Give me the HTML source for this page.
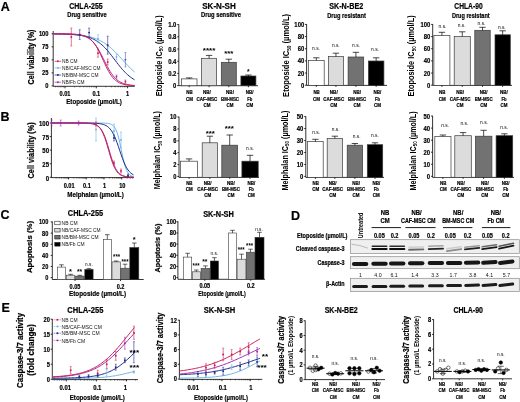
<!DOCTYPE html>
<html><head><meta charset="utf-8"><style>
html,body{margin:0;padding:0;background:#fff;width:520px;height:402px;overflow:hidden}
svg{display:block;filter:blur(0.35px)}
text{font-family:"Liberation Sans", sans-serif}
.s{stroke:#000;stroke-width:0.2px}
</style></head><body>
<svg width="520" height="402" viewBox="0 0 520 402">
<defs><filter id="bb" x="-10%" y="-50%" width="120%" height="200%"><feGaussianBlur stdDeviation="0.5"/></filter></defs>
<rect width="520" height="402" fill="#fff"/>
<text x="5.20" y="11.20" font-size="12.5" font-weight="bold" text-anchor="middle" fill="#000" textLength="9.03" lengthAdjust="spacingAndGlyphs" class="s">A</text>
<text x="5.10" y="121.30" font-size="12.5" font-weight="bold" text-anchor="middle" fill="#000" textLength="9.03" lengthAdjust="spacingAndGlyphs" class="s">B</text>
<text x="4.90" y="218.80" font-size="12.5" font-weight="bold" text-anchor="middle" fill="#000" textLength="9.03" lengthAdjust="spacingAndGlyphs" class="s">C</text>
<text x="295.60" y="220.20" font-size="12.5" font-weight="bold" text-anchor="middle" fill="#000" textLength="9.03" lengthAdjust="spacingAndGlyphs" class="s">D</text>
<text x="5.70" y="312.40" font-size="12.5" font-weight="bold" text-anchor="middle" fill="#000" textLength="8.34" lengthAdjust="spacingAndGlyphs" class="s">E</text>
<text x="86.00" y="9.00" font-size="8.4" font-weight="bold" text-anchor="middle" fill="#000" textLength="33.50" lengthAdjust="spacingAndGlyphs" class="s">CHLA-255</text>
<text x="87.00" y="17.20" font-size="7.0" font-weight="bold" text-anchor="middle" fill="#000" textLength="39.50" lengthAdjust="spacingAndGlyphs" class="s">Drug sensitive</text>
<text transform="translate(33.60,57.00) rotate(-90)" font-size="8.2" font-weight="bold" text-anchor="middle" fill="#000" textLength="55.00" lengthAdjust="spacingAndGlyphs" class="s">Cell viability (%)</text>
<line x1="53.20" y1="31.00" x2="53.20" y2="86.30" stroke="#000" stroke-width="0.8"/>
<line x1="51.60" y1="33.80" x2="53.20" y2="33.80" stroke="#000" stroke-width="0.8"/>
<text x="48.50" y="35.50" font-size="7.0" font-weight="bold" text-anchor="end" fill="#000" textLength="9.58" lengthAdjust="spacingAndGlyphs" class="s">100</text>
<line x1="51.60" y1="46.83" x2="53.20" y2="46.83" stroke="#000" stroke-width="0.8"/>
<text x="48.50" y="48.53" font-size="7.0" font-weight="bold" text-anchor="end" fill="#000" textLength="6.38" lengthAdjust="spacingAndGlyphs" class="s">75</text>
<line x1="51.60" y1="59.85" x2="53.20" y2="59.85" stroke="#000" stroke-width="0.8"/>
<text x="48.50" y="61.55" font-size="7.0" font-weight="bold" text-anchor="end" fill="#000" textLength="6.38" lengthAdjust="spacingAndGlyphs" class="s">50</text>
<line x1="51.60" y1="72.88" x2="53.20" y2="72.88" stroke="#000" stroke-width="0.8"/>
<text x="48.50" y="74.58" font-size="7.0" font-weight="bold" text-anchor="end" fill="#000" textLength="6.38" lengthAdjust="spacingAndGlyphs" class="s">25</text>
<line x1="51.60" y1="85.90" x2="53.20" y2="85.90" stroke="#000" stroke-width="0.8"/>
<text x="48.50" y="87.60" font-size="7.0" font-weight="bold" text-anchor="end" fill="#000" textLength="3.19" lengthAdjust="spacingAndGlyphs" class="s">0</text>
<line x1="53.20" y1="86.30" x2="134.80" y2="86.30" stroke="#000" stroke-width="0.8"/>
<line x1="65.00" y1="86.30" x2="65.00" y2="88.30" stroke="#000" stroke-width="0.8"/>
<text x="65.00" y="96.10" font-size="6.6" font-weight="bold" text-anchor="middle" fill="#000" textLength="10.92" lengthAdjust="spacingAndGlyphs" class="s">0.01</text>
<line x1="96.30" y1="86.30" x2="96.30" y2="88.30" stroke="#000" stroke-width="0.8"/>
<text x="96.30" y="96.10" font-size="6.6" font-weight="bold" text-anchor="middle" fill="#000" textLength="7.80" lengthAdjust="spacingAndGlyphs" class="s">0.1</text>
<line x1="127.60" y1="86.30" x2="127.60" y2="88.30" stroke="#000" stroke-width="0.8"/>
<text x="127.60" y="96.10" font-size="6.6" font-weight="bold" text-anchor="middle" fill="#000" textLength="3.12" lengthAdjust="spacingAndGlyphs" class="s">1</text>
<line x1="55.58" y1="86.30" x2="55.58" y2="87.40" stroke="#000" stroke-width="0.5"/>
<line x1="58.06" y1="86.30" x2="58.06" y2="87.40" stroke="#000" stroke-width="0.5"/>
<line x1="60.15" y1="86.30" x2="60.15" y2="87.40" stroke="#000" stroke-width="0.5"/>
<line x1="61.97" y1="86.30" x2="61.97" y2="87.40" stroke="#000" stroke-width="0.5"/>
<line x1="63.57" y1="86.30" x2="63.57" y2="87.40" stroke="#000" stroke-width="0.5"/>
<line x1="74.42" y1="86.30" x2="74.42" y2="87.40" stroke="#000" stroke-width="0.5"/>
<line x1="79.93" y1="86.30" x2="79.93" y2="87.40" stroke="#000" stroke-width="0.5"/>
<line x1="83.84" y1="86.30" x2="83.84" y2="87.40" stroke="#000" stroke-width="0.5"/>
<line x1="86.88" y1="86.30" x2="86.88" y2="87.40" stroke="#000" stroke-width="0.5"/>
<line x1="89.36" y1="86.30" x2="89.36" y2="87.40" stroke="#000" stroke-width="0.5"/>
<line x1="91.45" y1="86.30" x2="91.45" y2="87.40" stroke="#000" stroke-width="0.5"/>
<line x1="93.27" y1="86.30" x2="93.27" y2="87.40" stroke="#000" stroke-width="0.5"/>
<line x1="94.87" y1="86.30" x2="94.87" y2="87.40" stroke="#000" stroke-width="0.5"/>
<line x1="105.72" y1="86.30" x2="105.72" y2="87.40" stroke="#000" stroke-width="0.5"/>
<line x1="111.23" y1="86.30" x2="111.23" y2="87.40" stroke="#000" stroke-width="0.5"/>
<line x1="115.14" y1="86.30" x2="115.14" y2="87.40" stroke="#000" stroke-width="0.5"/>
<line x1="118.18" y1="86.30" x2="118.18" y2="87.40" stroke="#000" stroke-width="0.5"/>
<line x1="120.66" y1="86.30" x2="120.66" y2="87.40" stroke="#000" stroke-width="0.5"/>
<line x1="122.75" y1="86.30" x2="122.75" y2="87.40" stroke="#000" stroke-width="0.5"/>
<line x1="124.57" y1="86.30" x2="124.57" y2="87.40" stroke="#000" stroke-width="0.5"/>
<line x1="126.17" y1="86.30" x2="126.17" y2="87.40" stroke="#000" stroke-width="0.5"/>
<text x="94.00" y="103.90" font-size="7.9" font-weight="bold" text-anchor="middle" fill="#000" textLength="55.50" lengthAdjust="spacingAndGlyphs" class="s">Etoposide (µmol/L)</text>
<path d="M53.20,33.95 L54.56,33.96 L55.91,33.98 L57.27,34.01 L58.62,34.03 L59.97,34.06 L61.33,34.09 L62.68,34.13 L64.04,34.17 L65.40,34.21 L66.75,34.26 L68.10,34.32 L69.46,34.38 L70.81,34.45 L72.17,34.52 L73.53,34.61 L74.88,34.71 L76.23,34.81 L77.59,34.94 L78.94,35.07 L80.30,35.22 L81.66,35.39 L83.01,35.57 L84.36,35.78 L85.72,36.01 L87.07,36.27 L88.43,36.55 L89.78,36.87 L91.14,37.21 L92.50,37.60 L93.85,38.02 L95.20,38.49 L96.56,39.00 L97.91,39.56 L99.27,40.18 L100.62,40.85 L101.98,41.57 L103.34,42.36 L104.69,43.22 L106.05,44.13 L107.40,45.11 L108.75,46.16 L110.11,47.28 L111.47,48.45 L112.82,49.69 L114.17,50.98 L115.53,52.33 L116.88,53.72 L118.24,55.15 L119.59,56.60 L120.95,58.08 L122.30,59.57 L123.66,61.07 L125.02,62.55 L126.37,64.02 L127.72,65.46 L129.08,66.86 L130.44,68.22 L131.79,69.54 L133.14,70.80 L134.50,72.00" stroke="#6fb4e4" stroke-width="1.0" fill="none"/>
<path d="M53.20,33.90 L54.56,33.91 L55.91,33.93 L57.27,33.95 L58.62,33.97 L59.97,34.00 L61.33,34.03 L62.68,34.06 L64.04,34.10 L65.40,34.14 L66.75,34.19 L68.10,34.25 L69.46,34.32 L70.81,34.39 L72.17,34.48 L73.53,34.58 L74.88,34.69 L76.23,34.82 L77.59,34.97 L78.94,35.13 L80.30,35.32 L81.66,35.54 L83.01,35.79 L84.36,36.07 L85.72,36.39 L87.07,36.75 L88.43,37.15 L89.78,37.61 L91.14,38.13 L92.50,38.70 L93.85,39.35 L95.20,40.07 L96.56,40.87 L97.91,41.75 L99.27,42.72 L100.62,43.79 L101.98,44.94 L103.34,46.20 L104.69,47.54 L106.05,48.98 L107.40,50.50 L108.75,52.10 L110.11,53.76 L111.47,55.48 L112.82,57.24 L114.17,59.02 L115.53,60.81 L116.88,62.60 L118.24,64.35 L119.59,66.07 L120.95,67.73 L122.30,69.32 L123.66,70.83 L125.02,72.26 L126.37,73.60 L127.72,74.85 L129.08,76.00 L130.44,77.05 L131.79,78.02 L133.14,78.90 L134.50,79.69" stroke="#1c2a8c" stroke-width="1.0" fill="none"/>
<path d="M53.20,33.82 L54.56,33.83 L55.91,33.83 L57.27,33.84 L58.62,33.85 L59.97,33.86 L61.33,33.87 L62.68,33.89 L64.04,33.91 L65.40,33.94 L66.75,33.97 L68.10,34.01 L69.46,34.05 L70.81,34.11 L72.17,34.18 L73.53,34.27 L74.88,34.38 L76.23,34.51 L77.59,34.68 L78.94,34.88 L80.30,35.12 L81.66,35.42 L83.01,35.79 L84.36,36.23 L85.72,36.76 L87.07,37.40 L88.43,38.17 L89.78,39.08 L91.14,40.16 L92.50,41.43 L93.85,42.89 L95.20,44.57 L96.56,46.47 L97.91,48.59 L99.27,50.90 L100.62,53.38 L101.98,56.00 L103.34,58.70 L104.69,61.42 L106.05,64.11 L107.40,66.71 L108.75,69.17 L110.11,71.46 L111.47,73.54 L112.82,75.40 L114.17,77.05 L115.53,78.48 L116.88,79.72 L118.24,80.77 L119.59,81.66 L120.95,82.41 L122.30,83.03 L123.66,83.55 L125.02,83.98 L126.37,84.33 L127.72,84.62 L129.08,84.85 L130.44,85.05 L131.79,85.21 L133.14,85.34 L134.50,85.44" stroke="#a12aa8" stroke-width="1.0" fill="none"/>
<path d="M53.20,33.81 L54.56,33.81 L55.91,33.82 L57.27,33.82 L58.62,33.83 L59.97,33.84 L61.33,33.84 L62.68,33.86 L64.04,33.87 L65.40,33.89 L66.75,33.91 L68.10,33.94 L69.46,33.98 L70.81,34.02 L72.17,34.08 L73.53,34.15 L74.88,34.24 L76.23,34.35 L77.59,34.50 L78.94,34.67 L80.30,34.89 L81.66,35.16 L83.01,35.50 L84.36,35.93 L85.72,36.45 L87.07,37.09 L88.43,37.87 L89.78,38.81 L91.14,39.95 L92.50,41.31 L93.85,42.90 L95.20,44.76 L96.56,46.87 L97.91,49.24 L99.27,51.84 L100.62,54.63 L101.98,57.55 L103.34,60.53 L104.69,63.50 L106.05,66.37 L107.40,69.08 L108.75,71.57 L110.11,73.83 L111.47,75.82 L112.82,77.56 L114.17,79.04 L115.53,80.30 L116.88,81.34 L118.24,82.21 L119.59,82.92 L120.95,83.51 L122.30,83.98 L123.66,84.36 L125.02,84.67 L126.37,84.92 L127.72,85.11 L129.08,85.27 L130.44,85.40 L131.79,85.50 L133.14,85.58 L134.50,85.65" stroke="#cc1f55" stroke-width="1.0" fill="none"/>
<line x1="71.30" y1="28.00" x2="71.30" y2="46.00" stroke="#cc1f55" stroke-width="0.6"/>
<line x1="70.30" y1="28.00" x2="72.30" y2="28.00" stroke="#cc1f55" stroke-width="0.5"/>
<line x1="70.30" y1="46.00" x2="72.30" y2="46.00" stroke="#cc1f55" stroke-width="0.5"/>
<circle cx="71.30" cy="37.00" r="0.95" fill="#cc1f55"/>
<line x1="79.70" y1="29.70" x2="79.70" y2="39.50" stroke="#1c2a8c" stroke-width="0.6"/>
<line x1="78.70" y1="29.70" x2="80.70" y2="29.70" stroke="#1c2a8c" stroke-width="0.5"/>
<line x1="78.70" y1="39.50" x2="80.70" y2="39.50" stroke="#1c2a8c" stroke-width="0.5"/>
<circle cx="79.70" cy="34.60" r="0.95" fill="#1c2a8c"/>
<line x1="89.10" y1="28.10" x2="89.10" y2="37.10" stroke="#1c2a8c" stroke-width="0.6"/>
<line x1="88.10" y1="28.10" x2="90.10" y2="28.10" stroke="#1c2a8c" stroke-width="0.5"/>
<line x1="88.10" y1="37.10" x2="90.10" y2="37.10" stroke="#1c2a8c" stroke-width="0.5"/>
<circle cx="89.10" cy="32.60" r="0.95" fill="#1c2a8c"/>
<line x1="98.00" y1="49.20" x2="98.00" y2="57.20" stroke="#cc1f55" stroke-width="0.6"/>
<line x1="97.00" y1="49.20" x2="99.00" y2="49.20" stroke="#cc1f55" stroke-width="0.5"/>
<line x1="97.00" y1="57.20" x2="99.00" y2="57.20" stroke="#cc1f55" stroke-width="0.5"/>
<circle cx="98.00" cy="53.20" r="0.95" fill="#cc1f55"/>
<line x1="98.00" y1="34.70" x2="98.00" y2="42.70" stroke="#6fb4e4" stroke-width="0.6"/>
<line x1="97.00" y1="34.70" x2="99.00" y2="34.70" stroke="#6fb4e4" stroke-width="0.5"/>
<line x1="97.00" y1="42.70" x2="99.00" y2="42.70" stroke="#6fb4e4" stroke-width="0.5"/>
<circle cx="98.00" cy="38.70" r="0.95" fill="#6fb4e4"/>
<line x1="107.70" y1="36.20" x2="107.70" y2="54.20" stroke="#1c2a8c" stroke-width="0.6"/>
<line x1="106.70" y1="36.20" x2="108.70" y2="36.20" stroke="#1c2a8c" stroke-width="0.5"/>
<line x1="106.70" y1="54.20" x2="108.70" y2="54.20" stroke="#1c2a8c" stroke-width="0.5"/>
<circle cx="107.70" cy="45.20" r="0.95" fill="#1c2a8c"/>
<line x1="107.70" y1="59.00" x2="107.70" y2="65.00" stroke="#cc1f55" stroke-width="0.6"/>
<line x1="106.70" y1="59.00" x2="108.70" y2="59.00" stroke="#cc1f55" stroke-width="0.5"/>
<line x1="106.70" y1="65.00" x2="108.70" y2="65.00" stroke="#cc1f55" stroke-width="0.5"/>
<circle cx="107.70" cy="62.00" r="0.95" fill="#cc1f55"/>
<line x1="116.50" y1="75.00" x2="116.50" y2="78.20" stroke="#a12aa8" stroke-width="0.6"/>
<line x1="115.50" y1="75.00" x2="117.50" y2="75.00" stroke="#a12aa8" stroke-width="0.5"/>
<line x1="115.50" y1="78.20" x2="117.50" y2="78.20" stroke="#a12aa8" stroke-width="0.5"/>
<circle cx="116.50" cy="76.60" r="0.95" fill="#a12aa8"/>
<line x1="116.50" y1="54.00" x2="116.50" y2="60.00" stroke="#6fb4e4" stroke-width="0.6"/>
<line x1="115.50" y1="54.00" x2="117.50" y2="54.00" stroke="#6fb4e4" stroke-width="0.5"/>
<line x1="115.50" y1="60.00" x2="117.50" y2="60.00" stroke="#6fb4e4" stroke-width="0.5"/>
<circle cx="116.50" cy="57.00" r="0.95" fill="#6fb4e4"/>
<line x1="125.40" y1="52.50" x2="125.40" y2="66.90" stroke="#4a5fc0" stroke-width="0.6"/>
<line x1="124.40" y1="52.50" x2="126.40" y2="52.50" stroke="#4a5fc0" stroke-width="0.5"/>
<line x1="124.40" y1="66.90" x2="126.40" y2="66.90" stroke="#4a5fc0" stroke-width="0.5"/>
<circle cx="125.40" cy="59.70" r="0.95" fill="#4a5fc0"/>
<line x1="125.40" y1="80.00" x2="125.40" y2="83.20" stroke="#cc1f55" stroke-width="0.6"/>
<line x1="124.40" y1="80.00" x2="126.40" y2="80.00" stroke="#cc1f55" stroke-width="0.5"/>
<line x1="124.40" y1="83.20" x2="126.40" y2="83.20" stroke="#cc1f55" stroke-width="0.5"/>
<circle cx="125.40" cy="81.60" r="0.95" fill="#cc1f55"/>
<line x1="54.60" y1="61.30" x2="61.20" y2="61.30" stroke="#cc1f55" stroke-width="0.7"/>
<circle cx="57.9" cy="61.3" r="0.95" fill="#cc1f55"/>
<text x="62.00" y="63.30" font-size="6.0" font-weight="normal" text-anchor="start" fill="#111" textLength="15.50" lengthAdjust="spacingAndGlyphs">NB CM</text>
<line x1="54.60" y1="67.90" x2="61.20" y2="67.90" stroke="#6fb4e4" stroke-width="0.7"/>
<circle cx="57.9" cy="67.9" r="0.95" fill="#6fb4e4"/>
<text x="62.00" y="69.90" font-size="6.0" font-weight="normal" text-anchor="start" fill="#111" textLength="38.50" lengthAdjust="spacingAndGlyphs">NB/CAF-MSC CM</text>
<line x1="54.60" y1="75.00" x2="61.20" y2="75.00" stroke="#1c2a8c" stroke-width="0.7"/>
<circle cx="57.9" cy="75.0" r="0.95" fill="#1c2a8c"/>
<text x="62.00" y="77.00" font-size="6.0" font-weight="normal" text-anchor="start" fill="#111" textLength="36.50" lengthAdjust="spacingAndGlyphs">NB/BM-MSC CM</text>
<line x1="54.60" y1="82.20" x2="61.20" y2="82.20" stroke="#a12aa8" stroke-width="0.7"/>
<circle cx="57.9" cy="82.2" r="0.95" fill="#a12aa8"/>
<text x="62.00" y="84.20" font-size="6.0" font-weight="normal" text-anchor="start" fill="#111" textLength="22.50" lengthAdjust="spacingAndGlyphs">NB/Fb CM</text>
<text x="219.00" y="9.00" font-size="8.4" font-weight="bold" text-anchor="middle" fill="#000" textLength="33.50" lengthAdjust="spacingAndGlyphs" class="s">SK-N-SH</text>
<text x="221.00" y="17.40" font-size="7.0" font-weight="bold" text-anchor="middle" fill="#000" textLength="40.00" lengthAdjust="spacingAndGlyphs" class="s">Drug sensitive</text>
<text transform="translate(161.50,55.80) rotate(-90)" font-size="8.4" font-weight="bold" text-anchor="middle" textLength="81" lengthAdjust="spacingAndGlyphs">Etoposide IC<tspan font-size="5.21" dy="1.8">50</tspan><tspan dy="-1.8"> (µmol/L)</tspan></text>
<line x1="178.80" y1="24.30" x2="178.80" y2="85.70" stroke="#000" stroke-width="0.8"/>
<line x1="177.20" y1="85.60" x2="178.80" y2="85.60" stroke="#000" stroke-width="0.8"/>
<text x="176.40" y="88.26" font-size="7.6" font-weight="bold" text-anchor="end" fill="#000" textLength="3.30" lengthAdjust="spacingAndGlyphs" class="s">0</text>
<line x1="177.20" y1="73.40" x2="178.80" y2="73.40" stroke="#000" stroke-width="0.8"/>
<text x="176.40" y="76.06" font-size="7.6" font-weight="bold" text-anchor="end" fill="#000" textLength="8.24" lengthAdjust="spacingAndGlyphs" class="s">0.2</text>
<line x1="177.20" y1="61.20" x2="178.80" y2="61.20" stroke="#000" stroke-width="0.8"/>
<text x="176.40" y="63.86" font-size="7.6" font-weight="bold" text-anchor="end" fill="#000" textLength="8.24" lengthAdjust="spacingAndGlyphs" class="s">0.4</text>
<line x1="177.20" y1="49.00" x2="178.80" y2="49.00" stroke="#000" stroke-width="0.8"/>
<text x="176.40" y="51.66" font-size="7.6" font-weight="bold" text-anchor="end" fill="#000" textLength="8.24" lengthAdjust="spacingAndGlyphs" class="s">0.6</text>
<line x1="177.20" y1="36.80" x2="178.80" y2="36.80" stroke="#000" stroke-width="0.8"/>
<text x="176.40" y="39.46" font-size="7.6" font-weight="bold" text-anchor="end" fill="#000" textLength="8.24" lengthAdjust="spacingAndGlyphs" class="s">0.8</text>
<line x1="177.20" y1="24.60" x2="178.80" y2="24.60" stroke="#000" stroke-width="0.8"/>
<text x="176.40" y="27.26" font-size="7.6" font-weight="bold" text-anchor="end" fill="#000" textLength="8.24" lengthAdjust="spacingAndGlyphs" class="s">1.0</text>
<line x1="178.80" y1="85.70" x2="258.00" y2="85.70" stroke="#000" stroke-width="0.8"/>
<rect x="181.40" y="78.90" width="15.60" height="6.80" fill="#fff" stroke="#3a3a3a" stroke-width="0.7"/>
<line x1="189.20" y1="78.90" x2="189.20" y2="77.90" stroke="#000" stroke-width="0.7"/>
<line x1="186.00" y1="77.90" x2="192.40" y2="77.90" stroke="#000" stroke-width="0.7"/>
<line x1="189.20" y1="85.70" x2="189.20" y2="87.20" stroke="#000" stroke-width="0.8"/>
<text x="189.50" y="93.80" font-size="5.4" font-weight="bold" text-anchor="middle" fill="#000" textLength="6.40" lengthAdjust="spacingAndGlyphs" class="s">NB</text>
<text x="189.50" y="100.60" font-size="5.4" font-weight="bold" text-anchor="middle" fill="#000" textLength="7.00" lengthAdjust="spacingAndGlyphs" class="s">CM</text>
<rect x="201.60" y="58.30" width="15.00" height="27.40" fill="#dcdcdc" stroke="#3a3a3a" stroke-width="0.7"/>
<line x1="209.10" y1="58.30" x2="209.10" y2="55.40" stroke="#000" stroke-width="0.7"/>
<line x1="205.90" y1="55.40" x2="212.30" y2="55.40" stroke="#000" stroke-width="0.7"/>
<line x1="209.10" y1="85.70" x2="209.10" y2="87.20" stroke="#000" stroke-width="0.8"/>
<text x="206.90" y="93.80" font-size="5.4" font-weight="bold" text-anchor="middle" fill="#000" textLength="7.80" lengthAdjust="spacingAndGlyphs" class="s">NB/</text>
<text x="206.90" y="100.60" font-size="5.4" font-weight="bold" text-anchor="middle" fill="#000" textLength="20.80" lengthAdjust="spacingAndGlyphs" class="s">CAF-MSC</text>
<text x="206.90" y="107.20" font-size="5.4" font-weight="bold" text-anchor="middle" fill="#000" textLength="7.00" lengthAdjust="spacingAndGlyphs" class="s">CM</text>
<rect x="221.30" y="62.30" width="15.00" height="23.40" fill="#727272" stroke="#3a3a3a" stroke-width="0.7"/>
<line x1="228.80" y1="62.30" x2="228.80" y2="59.20" stroke="#000" stroke-width="0.7"/>
<line x1="225.60" y1="59.20" x2="232.00" y2="59.20" stroke="#000" stroke-width="0.7"/>
<line x1="228.80" y1="85.70" x2="228.80" y2="87.20" stroke="#000" stroke-width="0.8"/>
<text x="230.00" y="93.80" font-size="5.4" font-weight="bold" text-anchor="middle" fill="#000" textLength="7.80" lengthAdjust="spacingAndGlyphs" class="s">NB/</text>
<text x="230.00" y="100.60" font-size="5.4" font-weight="bold" text-anchor="middle" fill="#000" textLength="18.00" lengthAdjust="spacingAndGlyphs" class="s">BM-MSC</text>
<text x="230.00" y="107.20" font-size="5.4" font-weight="bold" text-anchor="middle" fill="#000" textLength="7.00" lengthAdjust="spacingAndGlyphs" class="s">CM</text>
<rect x="240.90" y="76.00" width="15.00" height="9.70" fill="#000" stroke="#3a3a3a" stroke-width="0.7"/>
<line x1="248.40" y1="76.00" x2="248.40" y2="75.00" stroke="#000" stroke-width="0.7"/>
<line x1="245.20" y1="75.00" x2="251.60" y2="75.00" stroke="#000" stroke-width="0.7"/>
<line x1="248.40" y1="85.70" x2="248.40" y2="87.20" stroke="#000" stroke-width="0.8"/>
<text x="249.70" y="93.80" font-size="5.4" font-weight="bold" text-anchor="middle" fill="#000" textLength="7.80" lengthAdjust="spacingAndGlyphs" class="s">NB/</text>
<text x="249.70" y="100.60" font-size="5.4" font-weight="bold" text-anchor="middle" fill="#000" textLength="5.00" lengthAdjust="spacingAndGlyphs" class="s">Fb</text>
<text x="249.70" y="107.20" font-size="5.4" font-weight="bold" text-anchor="middle" fill="#000" textLength="7.00" lengthAdjust="spacingAndGlyphs" class="s">CM</text>
<text x="209.10" y="53.00" font-size="7.0" font-weight="bold" text-anchor="middle" fill="#000" textLength="12.60" lengthAdjust="spacingAndGlyphs">****</text>
<text x="228.80" y="56.10" font-size="7.0" font-weight="bold" text-anchor="middle" fill="#000" textLength="9.20" lengthAdjust="spacingAndGlyphs">***</text>
<text x="248.20" y="73.80" font-size="7.0" font-weight="bold" text-anchor="middle" fill="#000" textLength="2.60" lengthAdjust="spacingAndGlyphs">*</text>
<text x="346.20" y="9.00" font-size="8.4" font-weight="bold" text-anchor="middle" fill="#000" textLength="34.00" lengthAdjust="spacingAndGlyphs" class="s">SK-N-BE2</text>
<text x="346.50" y="17.60" font-size="7.0" font-weight="bold" text-anchor="middle" fill="#000" textLength="38.60" lengthAdjust="spacingAndGlyphs" class="s">Drug resistant</text>
<text transform="translate(289.00,55.40) rotate(-90)" font-size="8.4" font-weight="bold" text-anchor="middle" textLength="83" lengthAdjust="spacingAndGlyphs">Etoposide IC<tspan font-size="5.21" dy="1.8">50</tspan><tspan dy="-1.8"> (µmol/L)</tspan></text>
<line x1="306.60" y1="24.10" x2="306.60" y2="85.40" stroke="#000" stroke-width="0.8"/>
<line x1="305.00" y1="85.20" x2="306.60" y2="85.20" stroke="#000" stroke-width="0.8"/>
<text x="304.20" y="87.72" font-size="7.2" font-weight="bold" text-anchor="end" fill="#000" textLength="3.28" lengthAdjust="spacingAndGlyphs" class="s">0</text>
<line x1="305.00" y1="73.04" x2="306.60" y2="73.04" stroke="#000" stroke-width="0.8"/>
<text x="304.20" y="75.56" font-size="7.2" font-weight="bold" text-anchor="end" fill="#000" textLength="6.57" lengthAdjust="spacingAndGlyphs" class="s">20</text>
<line x1="305.00" y1="60.88" x2="306.60" y2="60.88" stroke="#000" stroke-width="0.8"/>
<text x="304.20" y="63.40" font-size="7.2" font-weight="bold" text-anchor="end" fill="#000" textLength="6.57" lengthAdjust="spacingAndGlyphs" class="s">40</text>
<line x1="305.00" y1="48.72" x2="306.60" y2="48.72" stroke="#000" stroke-width="0.8"/>
<text x="304.20" y="51.24" font-size="7.2" font-weight="bold" text-anchor="end" fill="#000" textLength="6.57" lengthAdjust="spacingAndGlyphs" class="s">60</text>
<line x1="305.00" y1="36.56" x2="306.60" y2="36.56" stroke="#000" stroke-width="0.8"/>
<text x="304.20" y="39.08" font-size="7.2" font-weight="bold" text-anchor="end" fill="#000" textLength="6.57" lengthAdjust="spacingAndGlyphs" class="s">80</text>
<line x1="305.00" y1="24.40" x2="306.60" y2="24.40" stroke="#000" stroke-width="0.8"/>
<text x="304.20" y="26.92" font-size="7.2" font-weight="bold" text-anchor="end" fill="#000" textLength="9.85" lengthAdjust="spacingAndGlyphs" class="s">100</text>
<line x1="306.60" y1="85.40" x2="387.00" y2="85.40" stroke="#000" stroke-width="0.8"/>
<rect x="308.40" y="60.40" width="15.80" height="25.00" fill="#fff" stroke="#3a3a3a" stroke-width="0.7"/>
<line x1="316.30" y1="60.40" x2="316.30" y2="57.80" stroke="#000" stroke-width="0.7"/>
<line x1="313.10" y1="57.80" x2="319.50" y2="57.80" stroke="#000" stroke-width="0.7"/>
<line x1="316.30" y1="85.40" x2="316.30" y2="86.90" stroke="#000" stroke-width="0.8"/>
<text x="316.60" y="93.80" font-size="5.4" font-weight="bold" text-anchor="middle" fill="#000" textLength="6.40" lengthAdjust="spacingAndGlyphs" class="s">NB</text>
<text x="316.60" y="100.60" font-size="5.4" font-weight="bold" text-anchor="middle" fill="#000" textLength="7.00" lengthAdjust="spacingAndGlyphs" class="s">CM</text>
<rect x="328.40" y="56.60" width="15.10" height="28.80" fill="#dcdcdc" stroke="#3a3a3a" stroke-width="0.7"/>
<line x1="335.95" y1="56.60" x2="335.95" y2="53.20" stroke="#000" stroke-width="0.7"/>
<line x1="332.75" y1="53.20" x2="339.15" y2="53.20" stroke="#000" stroke-width="0.7"/>
<line x1="335.95" y1="85.40" x2="335.95" y2="86.90" stroke="#000" stroke-width="0.8"/>
<text x="333.75" y="93.80" font-size="5.4" font-weight="bold" text-anchor="middle" fill="#000" textLength="7.80" lengthAdjust="spacingAndGlyphs" class="s">NB/</text>
<text x="333.75" y="100.60" font-size="5.4" font-weight="bold" text-anchor="middle" fill="#000" textLength="20.80" lengthAdjust="spacingAndGlyphs" class="s">CAF-MSC</text>
<text x="333.75" y="107.20" font-size="5.4" font-weight="bold" text-anchor="middle" fill="#000" textLength="7.00" lengthAdjust="spacingAndGlyphs" class="s">CM</text>
<rect x="348.10" y="57.00" width="15.60" height="28.40" fill="#727272" stroke="#3a3a3a" stroke-width="0.7"/>
<line x1="355.90" y1="57.00" x2="355.90" y2="52.30" stroke="#000" stroke-width="0.7"/>
<line x1="352.70" y1="52.30" x2="359.10" y2="52.30" stroke="#000" stroke-width="0.7"/>
<line x1="355.90" y1="85.40" x2="355.90" y2="86.90" stroke="#000" stroke-width="0.8"/>
<text x="357.10" y="93.80" font-size="5.4" font-weight="bold" text-anchor="middle" fill="#000" textLength="7.80" lengthAdjust="spacingAndGlyphs" class="s">NB/</text>
<text x="357.10" y="100.60" font-size="5.4" font-weight="bold" text-anchor="middle" fill="#000" textLength="18.00" lengthAdjust="spacingAndGlyphs" class="s">BM-MSC</text>
<text x="357.10" y="107.20" font-size="5.4" font-weight="bold" text-anchor="middle" fill="#000" textLength="7.00" lengthAdjust="spacingAndGlyphs" class="s">CM</text>
<rect x="368.40" y="61.00" width="15.50" height="24.40" fill="#000" stroke="#3a3a3a" stroke-width="0.7"/>
<line x1="376.15" y1="61.00" x2="376.15" y2="57.80" stroke="#000" stroke-width="0.7"/>
<line x1="372.95" y1="57.80" x2="379.35" y2="57.80" stroke="#000" stroke-width="0.7"/>
<line x1="376.15" y1="85.40" x2="376.15" y2="86.90" stroke="#000" stroke-width="0.8"/>
<text x="377.45" y="93.80" font-size="5.4" font-weight="bold" text-anchor="middle" fill="#000" textLength="7.80" lengthAdjust="spacingAndGlyphs" class="s">NB/</text>
<text x="377.45" y="100.60" font-size="5.4" font-weight="bold" text-anchor="middle" fill="#000" textLength="5.00" lengthAdjust="spacingAndGlyphs" class="s">Fb</text>
<text x="377.45" y="107.20" font-size="5.4" font-weight="bold" text-anchor="middle" fill="#000" textLength="7.00" lengthAdjust="spacingAndGlyphs" class="s">CM</text>
<text x="316.00" y="50.40" font-size="6.1" font-weight="normal" text-anchor="middle" fill="#000" textLength="7.80" lengthAdjust="spacingAndGlyphs">n.s.</text>
<text x="335.80" y="46.90" font-size="6.1" font-weight="normal" text-anchor="middle" fill="#000" textLength="7.80" lengthAdjust="spacingAndGlyphs">n.s.</text>
<text x="356.00" y="46.90" font-size="6.1" font-weight="normal" text-anchor="middle" fill="#000" textLength="7.80" lengthAdjust="spacingAndGlyphs">n.s.</text>
<text x="375.00" y="50.70" font-size="6.1" font-weight="normal" text-anchor="middle" fill="#000" textLength="7.80" lengthAdjust="spacingAndGlyphs">n.s.</text>
<text x="468.50" y="9.00" font-size="8.4" font-weight="bold" text-anchor="middle" fill="#000" textLength="28.30" lengthAdjust="spacingAndGlyphs" class="s">CHLA-90</text>
<text x="470.80" y="17.60" font-size="7.0" font-weight="bold" text-anchor="middle" fill="#000" textLength="37.80" lengthAdjust="spacingAndGlyphs" class="s">Drug resistant</text>
<text transform="translate(414.00,55.90) rotate(-90)" font-size="8.4" font-weight="bold" text-anchor="middle" textLength="81" lengthAdjust="spacingAndGlyphs">Etoposide IC<tspan font-size="5.21" dy="1.8">50</tspan><tspan dy="-1.8"> (µmol/L)</tspan></text>
<line x1="432.70" y1="24.10" x2="432.70" y2="85.40" stroke="#000" stroke-width="0.8"/>
<line x1="431.10" y1="85.20" x2="432.70" y2="85.20" stroke="#000" stroke-width="0.8"/>
<text x="430.30" y="87.72" font-size="7.2" font-weight="bold" text-anchor="end" fill="#000" textLength="3.28" lengthAdjust="spacingAndGlyphs" class="s">0</text>
<line x1="431.10" y1="73.04" x2="432.70" y2="73.04" stroke="#000" stroke-width="0.8"/>
<text x="430.30" y="75.56" font-size="7.2" font-weight="bold" text-anchor="end" fill="#000" textLength="6.57" lengthAdjust="spacingAndGlyphs" class="s">20</text>
<line x1="431.10" y1="60.88" x2="432.70" y2="60.88" stroke="#000" stroke-width="0.8"/>
<text x="430.30" y="63.40" font-size="7.2" font-weight="bold" text-anchor="end" fill="#000" textLength="6.57" lengthAdjust="spacingAndGlyphs" class="s">40</text>
<line x1="431.10" y1="48.72" x2="432.70" y2="48.72" stroke="#000" stroke-width="0.8"/>
<text x="430.30" y="51.24" font-size="7.2" font-weight="bold" text-anchor="end" fill="#000" textLength="6.57" lengthAdjust="spacingAndGlyphs" class="s">60</text>
<line x1="431.10" y1="36.56" x2="432.70" y2="36.56" stroke="#000" stroke-width="0.8"/>
<text x="430.30" y="39.08" font-size="7.2" font-weight="bold" text-anchor="end" fill="#000" textLength="6.57" lengthAdjust="spacingAndGlyphs" class="s">80</text>
<line x1="431.10" y1="24.40" x2="432.70" y2="24.40" stroke="#000" stroke-width="0.8"/>
<text x="430.30" y="26.92" font-size="7.2" font-weight="bold" text-anchor="end" fill="#000" textLength="9.85" lengthAdjust="spacingAndGlyphs" class="s">100</text>
<line x1="432.70" y1="85.40" x2="512.00" y2="85.40" stroke="#000" stroke-width="0.8"/>
<rect x="433.90" y="35.50" width="16.00" height="49.90" fill="#fff" stroke="#3a3a3a" stroke-width="0.7"/>
<line x1="441.90" y1="35.50" x2="441.90" y2="32.30" stroke="#000" stroke-width="0.7"/>
<line x1="438.70" y1="32.30" x2="445.10" y2="32.30" stroke="#000" stroke-width="0.7"/>
<line x1="441.90" y1="85.40" x2="441.90" y2="86.90" stroke="#000" stroke-width="0.8"/>
<text x="442.20" y="93.80" font-size="5.4" font-weight="bold" text-anchor="middle" fill="#000" textLength="6.40" lengthAdjust="spacingAndGlyphs" class="s">NB</text>
<text x="442.20" y="100.60" font-size="5.4" font-weight="bold" text-anchor="middle" fill="#000" textLength="7.00" lengthAdjust="spacingAndGlyphs" class="s">CM</text>
<rect x="454.20" y="36.50" width="16.10" height="48.90" fill="#dcdcdc" stroke="#3a3a3a" stroke-width="0.7"/>
<line x1="462.25" y1="36.50" x2="462.25" y2="31.80" stroke="#000" stroke-width="0.7"/>
<line x1="459.05" y1="31.80" x2="465.45" y2="31.80" stroke="#000" stroke-width="0.7"/>
<line x1="462.25" y1="85.40" x2="462.25" y2="86.90" stroke="#000" stroke-width="0.8"/>
<text x="460.05" y="93.80" font-size="5.4" font-weight="bold" text-anchor="middle" fill="#000" textLength="7.80" lengthAdjust="spacingAndGlyphs" class="s">NB/</text>
<text x="460.05" y="100.60" font-size="5.4" font-weight="bold" text-anchor="middle" fill="#000" textLength="20.80" lengthAdjust="spacingAndGlyphs" class="s">CAF-MSC</text>
<text x="460.05" y="107.20" font-size="5.4" font-weight="bold" text-anchor="middle" fill="#000" textLength="7.00" lengthAdjust="spacingAndGlyphs" class="s">CM</text>
<rect x="474.80" y="30.30" width="15.40" height="55.10" fill="#727272" stroke="#3a3a3a" stroke-width="0.7"/>
<line x1="482.50" y1="30.30" x2="482.50" y2="27.30" stroke="#000" stroke-width="0.7"/>
<line x1="479.30" y1="27.30" x2="485.70" y2="27.30" stroke="#000" stroke-width="0.7"/>
<line x1="482.50" y1="85.40" x2="482.50" y2="86.90" stroke="#000" stroke-width="0.8"/>
<text x="483.70" y="93.80" font-size="5.4" font-weight="bold" text-anchor="middle" fill="#000" textLength="7.80" lengthAdjust="spacingAndGlyphs" class="s">NB/</text>
<text x="483.70" y="100.60" font-size="5.4" font-weight="bold" text-anchor="middle" fill="#000" textLength="18.00" lengthAdjust="spacingAndGlyphs" class="s">BM-MSC</text>
<text x="483.70" y="107.20" font-size="5.4" font-weight="bold" text-anchor="middle" fill="#000" textLength="7.00" lengthAdjust="spacingAndGlyphs" class="s">CM</text>
<rect x="495.00" y="34.80" width="15.30" height="50.60" fill="#000" stroke="#3a3a3a" stroke-width="0.7"/>
<line x1="502.65" y1="34.80" x2="502.65" y2="30.80" stroke="#000" stroke-width="0.7"/>
<line x1="499.45" y1="30.80" x2="505.85" y2="30.80" stroke="#000" stroke-width="0.7"/>
<line x1="502.65" y1="85.40" x2="502.65" y2="86.90" stroke="#000" stroke-width="0.8"/>
<text x="503.95" y="93.80" font-size="5.4" font-weight="bold" text-anchor="middle" fill="#000" textLength="7.80" lengthAdjust="spacingAndGlyphs" class="s">NB/</text>
<text x="503.95" y="100.60" font-size="5.4" font-weight="bold" text-anchor="middle" fill="#000" textLength="5.00" lengthAdjust="spacingAndGlyphs" class="s">Fb</text>
<text x="503.95" y="107.20" font-size="5.4" font-weight="bold" text-anchor="middle" fill="#000" textLength="7.00" lengthAdjust="spacingAndGlyphs" class="s">CM</text>
<text x="442.50" y="28.20" font-size="6.1" font-weight="normal" text-anchor="middle" fill="#000" textLength="7.80" lengthAdjust="spacingAndGlyphs">n.s.</text>
<text x="461.60" y="27.00" font-size="6.1" font-weight="normal" text-anchor="middle" fill="#000" textLength="7.80" lengthAdjust="spacingAndGlyphs">n.s.</text>
<text x="481.50" y="25.20" font-size="6.1" font-weight="normal" text-anchor="middle" fill="#000" textLength="7.80" lengthAdjust="spacingAndGlyphs">n.s.</text>
<text x="501.80" y="28.70" font-size="6.1" font-weight="normal" text-anchor="middle" fill="#000" textLength="7.80" lengthAdjust="spacingAndGlyphs">n.s.</text>
<text transform="translate(160.20,150.20) rotate(-90)" font-size="8.4" font-weight="bold" text-anchor="middle" textLength="78" lengthAdjust="spacingAndGlyphs">Melphalan IC<tspan font-size="5.21" dy="1.8">50</tspan><tspan dy="-1.8"> (µmol/L)</tspan></text>
<line x1="179.00" y1="116.70" x2="179.00" y2="177.40" stroke="#000" stroke-width="0.8"/>
<line x1="177.40" y1="176.50" x2="179.00" y2="176.50" stroke="#000" stroke-width="0.8"/>
<text x="176.40" y="178.95" font-size="7.0" font-weight="bold" text-anchor="end" fill="#000" textLength="3.19" lengthAdjust="spacingAndGlyphs" class="s">0</text>
<line x1="177.40" y1="164.60" x2="179.00" y2="164.60" stroke="#000" stroke-width="0.8"/>
<text x="176.40" y="167.05" font-size="7.0" font-weight="bold" text-anchor="end" fill="#000" textLength="3.19" lengthAdjust="spacingAndGlyphs" class="s">2</text>
<line x1="177.40" y1="152.70" x2="179.00" y2="152.70" stroke="#000" stroke-width="0.8"/>
<text x="176.40" y="155.15" font-size="7.0" font-weight="bold" text-anchor="end" fill="#000" textLength="3.19" lengthAdjust="spacingAndGlyphs" class="s">4</text>
<line x1="177.40" y1="140.80" x2="179.00" y2="140.80" stroke="#000" stroke-width="0.8"/>
<text x="176.40" y="143.25" font-size="7.0" font-weight="bold" text-anchor="end" fill="#000" textLength="3.19" lengthAdjust="spacingAndGlyphs" class="s">6</text>
<line x1="177.40" y1="128.90" x2="179.00" y2="128.90" stroke="#000" stroke-width="0.8"/>
<text x="176.40" y="131.35" font-size="7.0" font-weight="bold" text-anchor="end" fill="#000" textLength="3.19" lengthAdjust="spacingAndGlyphs" class="s">8</text>
<line x1="177.40" y1="117.00" x2="179.00" y2="117.00" stroke="#000" stroke-width="0.8"/>
<text x="176.40" y="119.45" font-size="7.0" font-weight="bold" text-anchor="end" fill="#000" textLength="6.38" lengthAdjust="spacingAndGlyphs" class="s">10</text>
<line x1="179.00" y1="177.40" x2="259.00" y2="177.40" stroke="#000" stroke-width="0.8"/>
<rect x="180.60" y="161.20" width="16.90" height="16.20" fill="#fff" stroke="#3a3a3a" stroke-width="0.7"/>
<line x1="189.05" y1="161.20" x2="189.05" y2="158.90" stroke="#000" stroke-width="0.7"/>
<line x1="185.85" y1="158.90" x2="192.25" y2="158.90" stroke="#000" stroke-width="0.7"/>
<line x1="189.05" y1="177.40" x2="189.05" y2="178.90" stroke="#000" stroke-width="0.8"/>
<text x="189.35" y="184.60" font-size="5.4" font-weight="bold" text-anchor="middle" fill="#000" textLength="6.40" lengthAdjust="spacingAndGlyphs" class="s">NB</text>
<text x="189.35" y="190.90" font-size="5.4" font-weight="bold" text-anchor="middle" fill="#000" textLength="7.00" lengthAdjust="spacingAndGlyphs" class="s">CM</text>
<rect x="202.20" y="142.80" width="15.30" height="34.60" fill="#dcdcdc" stroke="#3a3a3a" stroke-width="0.7"/>
<line x1="209.85" y1="142.80" x2="209.85" y2="136.20" stroke="#000" stroke-width="0.7"/>
<line x1="206.65" y1="136.20" x2="213.05" y2="136.20" stroke="#000" stroke-width="0.7"/>
<line x1="209.85" y1="177.40" x2="209.85" y2="178.90" stroke="#000" stroke-width="0.8"/>
<text x="207.65" y="184.60" font-size="5.4" font-weight="bold" text-anchor="middle" fill="#000" textLength="7.80" lengthAdjust="spacingAndGlyphs" class="s">NB/</text>
<text x="207.65" y="190.90" font-size="5.4" font-weight="bold" text-anchor="middle" fill="#000" textLength="20.80" lengthAdjust="spacingAndGlyphs" class="s">CAF-MSC</text>
<text x="207.65" y="197.40" font-size="5.4" font-weight="bold" text-anchor="middle" fill="#000" textLength="7.00" lengthAdjust="spacingAndGlyphs" class="s">CM</text>
<rect x="221.80" y="145.20" width="15.80" height="32.20" fill="#727272" stroke="#3a3a3a" stroke-width="0.7"/>
<line x1="229.70" y1="145.20" x2="229.70" y2="135.00" stroke="#000" stroke-width="0.7"/>
<line x1="226.50" y1="135.00" x2="232.90" y2="135.00" stroke="#000" stroke-width="0.7"/>
<line x1="229.70" y1="177.40" x2="229.70" y2="178.90" stroke="#000" stroke-width="0.8"/>
<text x="230.90" y="184.60" font-size="5.4" font-weight="bold" text-anchor="middle" fill="#000" textLength="7.80" lengthAdjust="spacingAndGlyphs" class="s">NB/</text>
<text x="230.90" y="190.90" font-size="5.4" font-weight="bold" text-anchor="middle" fill="#000" textLength="18.00" lengthAdjust="spacingAndGlyphs" class="s">BM-MSC</text>
<text x="230.90" y="197.40" font-size="5.4" font-weight="bold" text-anchor="middle" fill="#000" textLength="7.00" lengthAdjust="spacingAndGlyphs" class="s">CM</text>
<rect x="241.90" y="161.20" width="16.30" height="16.20" fill="#000" stroke="#3a3a3a" stroke-width="0.7"/>
<line x1="250.05" y1="161.20" x2="250.05" y2="155.30" stroke="#000" stroke-width="0.7"/>
<line x1="246.85" y1="155.30" x2="253.25" y2="155.30" stroke="#000" stroke-width="0.7"/>
<line x1="250.05" y1="177.40" x2="250.05" y2="178.90" stroke="#000" stroke-width="0.8"/>
<text x="251.35" y="184.60" font-size="5.4" font-weight="bold" text-anchor="middle" fill="#000" textLength="7.80" lengthAdjust="spacingAndGlyphs" class="s">NB/</text>
<text x="251.35" y="190.90" font-size="5.4" font-weight="bold" text-anchor="middle" fill="#000" textLength="5.00" lengthAdjust="spacingAndGlyphs" class="s">Fb</text>
<text x="251.35" y="197.40" font-size="5.4" font-weight="bold" text-anchor="middle" fill="#000" textLength="7.00" lengthAdjust="spacingAndGlyphs" class="s">CM</text>
<text x="210.30" y="135.90" font-size="7.0" font-weight="bold" text-anchor="middle" fill="#000" textLength="9.20" lengthAdjust="spacingAndGlyphs">***</text>
<text x="229.30" y="131.40" font-size="7.0" font-weight="bold" text-anchor="middle" fill="#000" textLength="9.20" lengthAdjust="spacingAndGlyphs">***</text>
<text x="250.00" y="150.40" font-size="6.1" font-weight="normal" text-anchor="middle" fill="#000" textLength="7.80" lengthAdjust="spacingAndGlyphs">n.s.</text>
<text transform="translate(287.60,150.60) rotate(-90)" font-size="8.4" font-weight="bold" text-anchor="middle" textLength="80" lengthAdjust="spacingAndGlyphs">Melphalan IC<tspan font-size="5.21" dy="1.8">50</tspan><tspan dy="-1.8"> (µmol/L)</tspan></text>
<line x1="305.80" y1="116.30" x2="305.80" y2="177.40" stroke="#000" stroke-width="0.8"/>
<line x1="304.20" y1="176.40" x2="305.80" y2="176.40" stroke="#000" stroke-width="0.8"/>
<text x="303.20" y="178.92" font-size="7.2" font-weight="bold" text-anchor="end" fill="#000" textLength="3.28" lengthAdjust="spacingAndGlyphs" class="s">0</text>
<line x1="304.20" y1="164.44" x2="305.80" y2="164.44" stroke="#000" stroke-width="0.8"/>
<text x="303.20" y="166.96" font-size="7.2" font-weight="bold" text-anchor="end" fill="#000" textLength="6.57" lengthAdjust="spacingAndGlyphs" class="s">10</text>
<line x1="304.20" y1="152.48" x2="305.80" y2="152.48" stroke="#000" stroke-width="0.8"/>
<text x="303.20" y="155.00" font-size="7.2" font-weight="bold" text-anchor="end" fill="#000" textLength="6.57" lengthAdjust="spacingAndGlyphs" class="s">20</text>
<line x1="304.20" y1="140.52" x2="305.80" y2="140.52" stroke="#000" stroke-width="0.8"/>
<text x="303.20" y="143.04" font-size="7.2" font-weight="bold" text-anchor="end" fill="#000" textLength="6.57" lengthAdjust="spacingAndGlyphs" class="s">30</text>
<line x1="304.20" y1="128.56" x2="305.80" y2="128.56" stroke="#000" stroke-width="0.8"/>
<text x="303.20" y="131.08" font-size="7.2" font-weight="bold" text-anchor="end" fill="#000" textLength="6.57" lengthAdjust="spacingAndGlyphs" class="s">40</text>
<line x1="304.20" y1="116.60" x2="305.80" y2="116.60" stroke="#000" stroke-width="0.8"/>
<text x="303.20" y="119.12" font-size="7.2" font-weight="bold" text-anchor="end" fill="#000" textLength="6.57" lengthAdjust="spacingAndGlyphs" class="s">50</text>
<line x1="305.80" y1="177.40" x2="384.00" y2="177.40" stroke="#000" stroke-width="0.8"/>
<rect x="307.60" y="141.60" width="15.60" height="35.80" fill="#fff" stroke="#3a3a3a" stroke-width="0.7"/>
<line x1="315.40" y1="141.60" x2="315.40" y2="139.30" stroke="#000" stroke-width="0.7"/>
<line x1="312.20" y1="139.30" x2="318.60" y2="139.30" stroke="#000" stroke-width="0.7"/>
<line x1="315.40" y1="177.40" x2="315.40" y2="178.90" stroke="#000" stroke-width="0.8"/>
<text x="315.70" y="184.60" font-size="5.4" font-weight="bold" text-anchor="middle" fill="#000" textLength="6.40" lengthAdjust="spacingAndGlyphs" class="s">NB</text>
<text x="315.70" y="190.90" font-size="5.4" font-weight="bold" text-anchor="middle" fill="#000" textLength="7.00" lengthAdjust="spacingAndGlyphs" class="s">CM</text>
<rect x="327.20" y="138.50" width="15.30" height="38.90" fill="#dcdcdc" stroke="#3a3a3a" stroke-width="0.7"/>
<line x1="334.85" y1="138.50" x2="334.85" y2="136.20" stroke="#000" stroke-width="0.7"/>
<line x1="331.65" y1="136.20" x2="338.05" y2="136.20" stroke="#000" stroke-width="0.7"/>
<line x1="334.85" y1="177.40" x2="334.85" y2="178.90" stroke="#000" stroke-width="0.8"/>
<text x="332.65" y="184.60" font-size="5.4" font-weight="bold" text-anchor="middle" fill="#000" textLength="7.80" lengthAdjust="spacingAndGlyphs" class="s">NB/</text>
<text x="332.65" y="190.90" font-size="5.4" font-weight="bold" text-anchor="middle" fill="#000" textLength="20.80" lengthAdjust="spacingAndGlyphs" class="s">CAF-MSC</text>
<text x="332.65" y="197.40" font-size="5.4" font-weight="bold" text-anchor="middle" fill="#000" textLength="7.00" lengthAdjust="spacingAndGlyphs" class="s">CM</text>
<rect x="347.20" y="145.20" width="15.40" height="32.20" fill="#727272" stroke="#3a3a3a" stroke-width="0.7"/>
<line x1="354.90" y1="145.20" x2="354.90" y2="143.50" stroke="#000" stroke-width="0.7"/>
<line x1="351.70" y1="143.50" x2="358.10" y2="143.50" stroke="#000" stroke-width="0.7"/>
<line x1="354.90" y1="177.40" x2="354.90" y2="178.90" stroke="#000" stroke-width="0.8"/>
<text x="356.10" y="184.60" font-size="5.4" font-weight="bold" text-anchor="middle" fill="#000" textLength="7.80" lengthAdjust="spacingAndGlyphs" class="s">NB/</text>
<text x="356.10" y="190.90" font-size="5.4" font-weight="bold" text-anchor="middle" fill="#000" textLength="18.00" lengthAdjust="spacingAndGlyphs" class="s">BM-MSC</text>
<text x="356.10" y="197.40" font-size="5.4" font-weight="bold" text-anchor="middle" fill="#000" textLength="7.00" lengthAdjust="spacingAndGlyphs" class="s">CM</text>
<rect x="367.30" y="144.70" width="15.40" height="32.70" fill="#000" stroke="#3a3a3a" stroke-width="0.7"/>
<line x1="375.00" y1="144.70" x2="375.00" y2="142.80" stroke="#000" stroke-width="0.7"/>
<line x1="371.80" y1="142.80" x2="378.20" y2="142.80" stroke="#000" stroke-width="0.7"/>
<line x1="375.00" y1="177.40" x2="375.00" y2="178.90" stroke="#000" stroke-width="0.8"/>
<text x="376.30" y="184.60" font-size="5.4" font-weight="bold" text-anchor="middle" fill="#000" textLength="7.80" lengthAdjust="spacingAndGlyphs" class="s">NB/</text>
<text x="376.30" y="190.90" font-size="5.4" font-weight="bold" text-anchor="middle" fill="#000" textLength="5.00" lengthAdjust="spacingAndGlyphs" class="s">Fb</text>
<text x="376.30" y="197.40" font-size="5.4" font-weight="bold" text-anchor="middle" fill="#000" textLength="7.00" lengthAdjust="spacingAndGlyphs" class="s">CM</text>
<text x="316.20" y="134.40" font-size="6.1" font-weight="normal" text-anchor="middle" fill="#000" textLength="7.80" lengthAdjust="spacingAndGlyphs">n.s.</text>
<text x="335.70" y="130.80" font-size="6.1" font-weight="normal" text-anchor="middle" fill="#000" textLength="7.80" lengthAdjust="spacingAndGlyphs">n.s.</text>
<text x="356.70" y="137.90" font-size="6.1" font-weight="normal" text-anchor="middle" fill="#000" textLength="7.80" lengthAdjust="spacingAndGlyphs">n.s.</text>
<text x="374.90" y="137.10" font-size="6.1" font-weight="normal" text-anchor="middle" fill="#000" textLength="7.80" lengthAdjust="spacingAndGlyphs">n.s.</text>
<text transform="translate(415.60,150.90) rotate(-90)" font-size="8.4" font-weight="bold" text-anchor="middle" textLength="79" lengthAdjust="spacingAndGlyphs">Melphalan IC<tspan font-size="5.21" dy="1.8">50</tspan><tspan dy="-1.8"> (µmol/L)</tspan></text>
<line x1="432.60" y1="115.75" x2="432.60" y2="177.40" stroke="#000" stroke-width="0.8"/>
<line x1="431.00" y1="176.30" x2="432.60" y2="176.30" stroke="#000" stroke-width="0.8"/>
<text x="430.00" y="178.82" font-size="7.2" font-weight="bold" text-anchor="end" fill="#000" textLength="3.28" lengthAdjust="spacingAndGlyphs" class="s">0</text>
<line x1="431.00" y1="164.25" x2="432.60" y2="164.25" stroke="#000" stroke-width="0.8"/>
<text x="430.00" y="166.77" font-size="7.2" font-weight="bold" text-anchor="end" fill="#000" textLength="6.57" lengthAdjust="spacingAndGlyphs" class="s">10</text>
<line x1="431.00" y1="152.20" x2="432.60" y2="152.20" stroke="#000" stroke-width="0.8"/>
<text x="430.00" y="154.72" font-size="7.2" font-weight="bold" text-anchor="end" fill="#000" textLength="6.57" lengthAdjust="spacingAndGlyphs" class="s">20</text>
<line x1="431.00" y1="140.15" x2="432.60" y2="140.15" stroke="#000" stroke-width="0.8"/>
<text x="430.00" y="142.67" font-size="7.2" font-weight="bold" text-anchor="end" fill="#000" textLength="6.57" lengthAdjust="spacingAndGlyphs" class="s">30</text>
<line x1="431.00" y1="128.10" x2="432.60" y2="128.10" stroke="#000" stroke-width="0.8"/>
<text x="430.00" y="130.62" font-size="7.2" font-weight="bold" text-anchor="end" fill="#000" textLength="6.57" lengthAdjust="spacingAndGlyphs" class="s">40</text>
<line x1="431.00" y1="116.05" x2="432.60" y2="116.05" stroke="#000" stroke-width="0.8"/>
<text x="430.00" y="118.57" font-size="7.2" font-weight="bold" text-anchor="end" fill="#000" textLength="6.57" lengthAdjust="spacingAndGlyphs" class="s">50</text>
<line x1="432.60" y1="177.40" x2="514.00" y2="177.40" stroke="#000" stroke-width="0.8"/>
<rect x="434.80" y="136.40" width="16.20" height="41.00" fill="#fff" stroke="#3a3a3a" stroke-width="0.7"/>
<line x1="442.90" y1="136.40" x2="442.90" y2="135.00" stroke="#000" stroke-width="0.7"/>
<line x1="439.70" y1="135.00" x2="446.10" y2="135.00" stroke="#000" stroke-width="0.7"/>
<line x1="442.90" y1="177.40" x2="442.90" y2="178.90" stroke="#000" stroke-width="0.8"/>
<text x="443.20" y="184.60" font-size="5.4" font-weight="bold" text-anchor="middle" fill="#000" textLength="6.40" lengthAdjust="spacingAndGlyphs" class="s">NB</text>
<text x="443.20" y="190.90" font-size="5.4" font-weight="bold" text-anchor="middle" fill="#000" textLength="7.00" lengthAdjust="spacingAndGlyphs" class="s">CM</text>
<rect x="454.80" y="135.70" width="16.50" height="41.70" fill="#dcdcdc" stroke="#3a3a3a" stroke-width="0.7"/>
<line x1="463.05" y1="135.70" x2="463.05" y2="132.60" stroke="#000" stroke-width="0.7"/>
<line x1="459.85" y1="132.60" x2="466.25" y2="132.60" stroke="#000" stroke-width="0.7"/>
<line x1="463.05" y1="177.40" x2="463.05" y2="178.90" stroke="#000" stroke-width="0.8"/>
<text x="460.85" y="184.60" font-size="5.4" font-weight="bold" text-anchor="middle" fill="#000" textLength="7.80" lengthAdjust="spacingAndGlyphs" class="s">NB/</text>
<text x="460.85" y="190.90" font-size="5.4" font-weight="bold" text-anchor="middle" fill="#000" textLength="20.80" lengthAdjust="spacingAndGlyphs" class="s">CAF-MSC</text>
<text x="460.85" y="197.40" font-size="5.4" font-weight="bold" text-anchor="middle" fill="#000" textLength="7.00" lengthAdjust="spacingAndGlyphs" class="s">CM</text>
<rect x="475.40" y="136.20" width="16.50" height="41.20" fill="#727272" stroke="#3a3a3a" stroke-width="0.7"/>
<line x1="483.65" y1="136.20" x2="483.65" y2="130.30" stroke="#000" stroke-width="0.7"/>
<line x1="480.45" y1="130.30" x2="486.85" y2="130.30" stroke="#000" stroke-width="0.7"/>
<line x1="483.65" y1="177.40" x2="483.65" y2="178.90" stroke="#000" stroke-width="0.8"/>
<text x="484.85" y="184.60" font-size="5.4" font-weight="bold" text-anchor="middle" fill="#000" textLength="7.80" lengthAdjust="spacingAndGlyphs" class="s">NB/</text>
<text x="484.85" y="190.90" font-size="5.4" font-weight="bold" text-anchor="middle" fill="#000" textLength="18.00" lengthAdjust="spacingAndGlyphs" class="s">BM-MSC</text>
<text x="484.85" y="197.40" font-size="5.4" font-weight="bold" text-anchor="middle" fill="#000" textLength="7.00" lengthAdjust="spacingAndGlyphs" class="s">CM</text>
<rect x="496.10" y="135.70" width="16.60" height="41.70" fill="#000" stroke="#3a3a3a" stroke-width="0.7"/>
<line x1="504.40" y1="135.70" x2="504.40" y2="133.80" stroke="#000" stroke-width="0.7"/>
<line x1="501.20" y1="133.80" x2="507.60" y2="133.80" stroke="#000" stroke-width="0.7"/>
<line x1="504.40" y1="177.40" x2="504.40" y2="178.90" stroke="#000" stroke-width="0.8"/>
<text x="505.70" y="184.60" font-size="5.4" font-weight="bold" text-anchor="middle" fill="#000" textLength="7.80" lengthAdjust="spacingAndGlyphs" class="s">NB/</text>
<text x="505.70" y="190.90" font-size="5.4" font-weight="bold" text-anchor="middle" fill="#000" textLength="5.00" lengthAdjust="spacingAndGlyphs" class="s">Fb</text>
<text x="505.70" y="197.40" font-size="5.4" font-weight="bold" text-anchor="middle" fill="#000" textLength="7.00" lengthAdjust="spacingAndGlyphs" class="s">CM</text>
<text x="445.10" y="126.90" font-size="6.1" font-weight="normal" text-anchor="middle" fill="#000" textLength="7.80" lengthAdjust="spacingAndGlyphs">n.s.</text>
<text x="464.30" y="125.10" font-size="6.1" font-weight="normal" text-anchor="middle" fill="#000" textLength="7.80" lengthAdjust="spacingAndGlyphs">n.s.</text>
<text x="484.00" y="124.30" font-size="6.1" font-weight="normal" text-anchor="middle" fill="#000" textLength="7.80" lengthAdjust="spacingAndGlyphs">n.s.</text>
<text x="504.20" y="129.00" font-size="6.1" font-weight="normal" text-anchor="middle" fill="#000" textLength="7.80" lengthAdjust="spacingAndGlyphs">n.s.</text>
<text transform="translate(33.60,150.40) rotate(-90)" font-size="8.4" font-weight="bold" text-anchor="middle" fill="#000" textLength="56.00" lengthAdjust="spacingAndGlyphs" class="s">Cell viability (%)</text>
<line x1="51.40" y1="118.00" x2="51.40" y2="177.60" stroke="#000" stroke-width="0.8"/>
<line x1="49.80" y1="123.00" x2="51.40" y2="123.00" stroke="#000" stroke-width="0.8"/>
<text x="49.00" y="126.20" font-size="7.3" font-weight="bold" text-anchor="end" fill="#000" textLength="9.99" lengthAdjust="spacingAndGlyphs" class="s">100</text>
<line x1="49.80" y1="136.58" x2="51.40" y2="136.58" stroke="#000" stroke-width="0.8"/>
<text x="49.00" y="139.78" font-size="7.3" font-weight="bold" text-anchor="end" fill="#000" textLength="6.66" lengthAdjust="spacingAndGlyphs" class="s">75</text>
<line x1="49.80" y1="150.15" x2="51.40" y2="150.15" stroke="#000" stroke-width="0.8"/>
<text x="49.00" y="153.35" font-size="7.3" font-weight="bold" text-anchor="end" fill="#000" textLength="6.66" lengthAdjust="spacingAndGlyphs" class="s">50</text>
<line x1="49.80" y1="163.73" x2="51.40" y2="163.73" stroke="#000" stroke-width="0.8"/>
<text x="49.00" y="166.93" font-size="7.3" font-weight="bold" text-anchor="end" fill="#000" textLength="6.66" lengthAdjust="spacingAndGlyphs" class="s">25</text>
<line x1="49.80" y1="177.30" x2="51.40" y2="177.30" stroke="#000" stroke-width="0.8"/>
<text x="49.00" y="180.50" font-size="7.3" font-weight="bold" text-anchor="end" fill="#000" textLength="3.33" lengthAdjust="spacingAndGlyphs" class="s">0</text>
<line x1="51.20" y1="177.60" x2="134.00" y2="177.60" stroke="#000" stroke-width="0.8"/>
<line x1="68.54" y1="177.60" x2="68.54" y2="179.40" stroke="#000" stroke-width="0.8"/>
<text x="69.14" y="187.80" font-size="6.6" font-weight="bold" text-anchor="middle" fill="#000" textLength="10.92" lengthAdjust="spacingAndGlyphs" class="s">0.01</text>
<line x1="86.27" y1="177.60" x2="86.27" y2="179.40" stroke="#000" stroke-width="0.8"/>
<text x="86.87" y="187.80" font-size="6.6" font-weight="bold" text-anchor="middle" fill="#000" textLength="7.80" lengthAdjust="spacingAndGlyphs" class="s">0.1</text>
<line x1="104.00" y1="177.60" x2="104.00" y2="179.40" stroke="#000" stroke-width="0.8"/>
<text x="104.60" y="187.80" font-size="6.6" font-weight="bold" text-anchor="middle" fill="#000" textLength="3.12" lengthAdjust="spacingAndGlyphs" class="s">1</text>
<line x1="121.73" y1="177.60" x2="121.73" y2="179.40" stroke="#000" stroke-width="0.8"/>
<text x="122.33" y="187.80" font-size="6.6" font-weight="bold" text-anchor="middle" fill="#000" textLength="6.24" lengthAdjust="spacingAndGlyphs" class="s">10</text>
<line x1="56.15" y1="177.60" x2="56.15" y2="178.60" stroke="#000" stroke-width="0.5"/>
<line x1="59.27" y1="177.60" x2="59.27" y2="178.60" stroke="#000" stroke-width="0.5"/>
<line x1="61.48" y1="177.60" x2="61.48" y2="178.60" stroke="#000" stroke-width="0.5"/>
<line x1="63.20" y1="177.60" x2="63.20" y2="178.60" stroke="#000" stroke-width="0.5"/>
<line x1="64.61" y1="177.60" x2="64.61" y2="178.60" stroke="#000" stroke-width="0.5"/>
<line x1="65.79" y1="177.60" x2="65.79" y2="178.60" stroke="#000" stroke-width="0.5"/>
<line x1="66.82" y1="177.60" x2="66.82" y2="178.60" stroke="#000" stroke-width="0.5"/>
<line x1="67.73" y1="177.60" x2="67.73" y2="178.60" stroke="#000" stroke-width="0.5"/>
<line x1="73.88" y1="177.60" x2="73.88" y2="178.60" stroke="#000" stroke-width="0.5"/>
<line x1="77.00" y1="177.60" x2="77.00" y2="178.60" stroke="#000" stroke-width="0.5"/>
<line x1="79.21" y1="177.60" x2="79.21" y2="178.60" stroke="#000" stroke-width="0.5"/>
<line x1="80.93" y1="177.60" x2="80.93" y2="178.60" stroke="#000" stroke-width="0.5"/>
<line x1="82.34" y1="177.60" x2="82.34" y2="178.60" stroke="#000" stroke-width="0.5"/>
<line x1="83.52" y1="177.60" x2="83.52" y2="178.60" stroke="#000" stroke-width="0.5"/>
<line x1="84.55" y1="177.60" x2="84.55" y2="178.60" stroke="#000" stroke-width="0.5"/>
<line x1="85.46" y1="177.60" x2="85.46" y2="178.60" stroke="#000" stroke-width="0.5"/>
<line x1="91.61" y1="177.60" x2="91.61" y2="178.60" stroke="#000" stroke-width="0.5"/>
<line x1="94.73" y1="177.60" x2="94.73" y2="178.60" stroke="#000" stroke-width="0.5"/>
<line x1="96.94" y1="177.60" x2="96.94" y2="178.60" stroke="#000" stroke-width="0.5"/>
<line x1="98.66" y1="177.60" x2="98.66" y2="178.60" stroke="#000" stroke-width="0.5"/>
<line x1="100.07" y1="177.60" x2="100.07" y2="178.60" stroke="#000" stroke-width="0.5"/>
<line x1="101.25" y1="177.60" x2="101.25" y2="178.60" stroke="#000" stroke-width="0.5"/>
<line x1="102.28" y1="177.60" x2="102.28" y2="178.60" stroke="#000" stroke-width="0.5"/>
<line x1="103.19" y1="177.60" x2="103.19" y2="178.60" stroke="#000" stroke-width="0.5"/>
<line x1="109.34" y1="177.60" x2="109.34" y2="178.60" stroke="#000" stroke-width="0.5"/>
<line x1="112.46" y1="177.60" x2="112.46" y2="178.60" stroke="#000" stroke-width="0.5"/>
<line x1="114.67" y1="177.60" x2="114.67" y2="178.60" stroke="#000" stroke-width="0.5"/>
<line x1="116.39" y1="177.60" x2="116.39" y2="178.60" stroke="#000" stroke-width="0.5"/>
<line x1="117.80" y1="177.60" x2="117.80" y2="178.60" stroke="#000" stroke-width="0.5"/>
<line x1="118.98" y1="177.60" x2="118.98" y2="178.60" stroke="#000" stroke-width="0.5"/>
<line x1="120.01" y1="177.60" x2="120.01" y2="178.60" stroke="#000" stroke-width="0.5"/>
<line x1="120.92" y1="177.60" x2="120.92" y2="178.60" stroke="#000" stroke-width="0.5"/>
<line x1="127.07" y1="177.60" x2="127.07" y2="178.60" stroke="#000" stroke-width="0.5"/>
<line x1="130.19" y1="177.60" x2="130.19" y2="178.60" stroke="#000" stroke-width="0.5"/>
<line x1="132.40" y1="177.60" x2="132.40" y2="178.60" stroke="#000" stroke-width="0.5"/>
<text x="95.50" y="196.90" font-size="7.9" font-weight="bold" text-anchor="middle" fill="#000" textLength="56.50" lengthAdjust="spacingAndGlyphs" class="s">Melphalan (µmol/L)</text>
<path d="M51.20,123.00 L52.57,123.00 L53.94,123.00 L55.32,123.00 L56.69,123.00 L58.06,123.00 L59.43,123.00 L60.80,123.00 L62.17,123.00 L63.55,123.00 L64.92,123.00 L66.29,123.00 L67.66,123.00 L69.03,123.00 L70.40,123.00 L71.78,123.00 L73.15,123.00 L74.52,123.00 L75.89,123.00 L77.26,123.00 L78.63,123.00 L80.01,123.00 L81.38,123.00 L82.75,123.00 L84.12,123.00 L85.49,123.00 L86.86,123.00 L88.23,123.00 L89.61,123.00 L90.98,123.00 L92.35,123.00 L93.72,123.00 L95.09,123.00 L96.47,123.01 L97.84,123.01 L99.21,123.02 L100.58,123.03 L101.95,123.05 L103.32,123.08 L104.70,123.13 L106.07,123.21 L107.44,123.34 L108.81,123.57 L110.18,123.92 L111.55,124.51 L112.93,125.44 L114.30,126.90 L115.67,129.14 L117.04,132.41 L118.41,136.94 L119.78,142.69 L121.16,149.26 L122.53,155.94 L123.90,161.96 L125.27,166.82 L126.64,170.42 L128.01,172.90 L129.39,174.54 L130.76,175.59 L132.13,176.25 L133.50,176.66" stroke="#6fb4e4" stroke-width="1.0" fill="none"/>
<path d="M51.20,123.00 L52.57,123.00 L53.94,123.00 L55.32,123.00 L56.69,123.00 L58.06,123.00 L59.43,123.00 L60.80,123.00 L62.17,123.00 L63.55,123.00 L64.92,123.00 L66.29,123.00 L67.66,123.00 L69.03,123.00 L70.40,123.00 L71.78,123.00 L73.15,123.00 L74.52,123.00 L75.89,123.00 L77.26,123.00 L78.63,123.01 L80.01,123.01 L81.38,123.01 L82.75,123.02 L84.12,123.02 L85.49,123.03 L86.86,123.04 L88.23,123.05 L89.61,123.07 L90.98,123.10 L92.35,123.13 L93.72,123.18 L95.09,123.24 L96.47,123.33 L97.84,123.44 L99.21,123.59 L100.58,123.80 L101.95,124.08 L103.32,124.45 L104.70,124.94 L106.07,125.60 L107.44,126.46 L108.81,127.57 L110.18,129.01 L111.55,130.83 L112.93,133.09 L114.30,135.82 L115.67,139.01 L117.04,142.63 L118.41,146.56 L119.78,150.65 L121.16,154.72 L122.53,158.58 L123.90,162.10 L125.27,165.19 L126.64,167.80 L128.01,169.95 L129.39,171.67 L130.76,173.02 L132.13,174.07 L133.50,174.88" stroke="#1c2a8c" stroke-width="1.0" fill="none"/>
<path d="M51.20,123.00 L52.57,123.00 L53.94,123.00 L55.32,123.00 L56.69,123.00 L58.06,123.00 L59.43,123.00 L60.80,123.00 L62.17,123.00 L63.55,123.00 L64.92,123.00 L66.29,123.00 L67.66,123.00 L69.03,123.00 L70.40,123.00 L71.78,123.00 L73.15,123.01 L74.52,123.01 L75.89,123.01 L77.26,123.02 L78.63,123.02 L80.01,123.03 L81.38,123.05 L82.75,123.07 L84.12,123.10 L85.49,123.14 L86.86,123.19 L88.23,123.27 L89.61,123.38 L90.98,123.54 L92.35,123.76 L93.72,124.07 L95.09,124.50 L96.47,125.11 L97.84,125.93 L99.21,127.06 L100.58,128.57 L101.95,130.56 L103.32,133.12 L104.70,136.30 L106.07,140.08 L107.44,144.38 L108.81,149.01 L110.18,153.70 L111.55,158.19 L112.93,162.24 L114.30,165.72 L115.67,168.57 L117.04,170.83 L118.41,172.56 L119.78,173.86 L121.16,174.83 L122.53,175.53 L123.90,176.04 L125.27,176.40 L126.64,176.66 L128.01,176.85 L129.39,176.98 L130.76,177.07 L132.13,177.14 L133.50,177.19" stroke="#a12aa8" stroke-width="1.0" fill="none"/>
<path d="M51.20,123.00 L52.57,123.00 L53.94,123.00 L55.32,123.00 L56.69,123.00 L58.06,123.00 L59.43,123.00 L60.80,123.00 L62.17,123.00 L63.55,123.00 L64.92,123.00 L66.29,123.00 L67.66,123.00 L69.03,123.00 L70.40,123.00 L71.78,123.00 L73.15,123.01 L74.52,123.01 L75.89,123.01 L77.26,123.02 L78.63,123.02 L80.01,123.03 L81.38,123.05 L82.75,123.07 L84.12,123.09 L85.49,123.13 L86.86,123.19 L88.23,123.27 L89.61,123.39 L90.98,123.55 L92.35,123.78 L93.72,124.11 L95.09,124.57 L96.47,125.22 L97.84,126.12 L99.21,127.34 L100.58,129.00 L101.95,131.18 L103.32,133.97 L104.70,137.42 L106.07,141.49 L107.44,146.05 L108.81,150.85 L110.18,155.61 L111.55,160.05 L112.93,163.95 L114.30,167.20 L115.67,169.81 L117.04,171.83 L118.41,173.35 L119.78,174.47 L121.16,175.29 L122.53,175.88 L123.90,176.29 L125.27,176.59 L126.64,176.80 L128.01,176.95 L129.39,177.05 L130.76,177.13 L132.13,177.18 L133.50,177.22" stroke="#cc1f55" stroke-width="1.0" fill="none"/>
<line x1="51.70" y1="120.00" x2="51.70" y2="126.00" stroke="#a12aa8" stroke-width="0.6"/>
<line x1="50.70" y1="120.00" x2="52.70" y2="120.00" stroke="#a12aa8" stroke-width="0.5"/>
<line x1="50.70" y1="126.00" x2="52.70" y2="126.00" stroke="#a12aa8" stroke-width="0.5"/>
<circle cx="51.70" cy="123.00" r="0.95" fill="#a12aa8"/>
<line x1="60.70" y1="120.00" x2="60.70" y2="126.00" stroke="#a12aa8" stroke-width="0.6"/>
<line x1="59.70" y1="120.00" x2="61.70" y2="120.00" stroke="#a12aa8" stroke-width="0.5"/>
<line x1="59.70" y1="126.00" x2="61.70" y2="126.00" stroke="#a12aa8" stroke-width="0.5"/>
<circle cx="60.70" cy="123.00" r="0.95" fill="#a12aa8"/>
<line x1="78.60" y1="121.00" x2="78.60" y2="125.00" stroke="#a12aa8" stroke-width="0.6"/>
<line x1="77.60" y1="121.00" x2="79.60" y2="121.00" stroke="#a12aa8" stroke-width="0.5"/>
<line x1="77.60" y1="125.00" x2="79.60" y2="125.00" stroke="#a12aa8" stroke-width="0.5"/>
<circle cx="78.60" cy="123.00" r="0.95" fill="#a12aa8"/>
<line x1="96.00" y1="118.00" x2="96.00" y2="141.00" stroke="#6fb4e4" stroke-width="0.6"/>
<line x1="95.00" y1="118.00" x2="97.00" y2="118.00" stroke="#6fb4e4" stroke-width="0.5"/>
<line x1="95.00" y1="141.00" x2="97.00" y2="141.00" stroke="#6fb4e4" stroke-width="0.5"/>
<circle cx="96.00" cy="129.50" r="0.95" fill="#6fb4e4"/>
<line x1="96.00" y1="122.00" x2="96.00" y2="126.00" stroke="#cc1f55" stroke-width="0.6"/>
<line x1="95.00" y1="122.00" x2="97.00" y2="122.00" stroke="#cc1f55" stroke-width="0.5"/>
<line x1="95.00" y1="126.00" x2="97.00" y2="126.00" stroke="#cc1f55" stroke-width="0.5"/>
<circle cx="96.00" cy="124.00" r="0.95" fill="#cc1f55"/>
<line x1="114.00" y1="124.00" x2="114.00" y2="138.00" stroke="#6fb4e4" stroke-width="0.6"/>
<line x1="113.00" y1="124.00" x2="115.00" y2="124.00" stroke="#6fb4e4" stroke-width="0.5"/>
<line x1="113.00" y1="138.00" x2="115.00" y2="138.00" stroke="#6fb4e4" stroke-width="0.5"/>
<circle cx="114.00" cy="131.00" r="0.95" fill="#6fb4e4"/>
<line x1="114.00" y1="135.00" x2="114.00" y2="141.00" stroke="#1c2a8c" stroke-width="0.6"/>
<line x1="113.00" y1="135.00" x2="115.00" y2="135.00" stroke="#1c2a8c" stroke-width="0.5"/>
<line x1="113.00" y1="141.00" x2="115.00" y2="141.00" stroke="#1c2a8c" stroke-width="0.5"/>
<circle cx="114.00" cy="138.00" r="0.95" fill="#1c2a8c"/>
<line x1="114.00" y1="161.00" x2="114.00" y2="165.00" stroke="#cc1f55" stroke-width="0.6"/>
<line x1="113.00" y1="161.00" x2="115.00" y2="161.00" stroke="#cc1f55" stroke-width="0.5"/>
<line x1="113.00" y1="165.00" x2="115.00" y2="165.00" stroke="#cc1f55" stroke-width="0.5"/>
<circle cx="114.00" cy="163.00" r="0.95" fill="#cc1f55"/>
<line x1="121.00" y1="132.00" x2="121.00" y2="148.00" stroke="#6fb4e4" stroke-width="0.6"/>
<line x1="120.00" y1="132.00" x2="122.00" y2="132.00" stroke="#6fb4e4" stroke-width="0.5"/>
<line x1="120.00" y1="148.00" x2="122.00" y2="148.00" stroke="#6fb4e4" stroke-width="0.5"/>
<circle cx="121.00" cy="140.00" r="0.95" fill="#6fb4e4"/>
<line x1="121.00" y1="169.00" x2="121.00" y2="173.00" stroke="#cc1f55" stroke-width="0.6"/>
<line x1="120.00" y1="169.00" x2="122.00" y2="169.00" stroke="#cc1f55" stroke-width="0.5"/>
<line x1="120.00" y1="173.00" x2="122.00" y2="173.00" stroke="#cc1f55" stroke-width="0.5"/>
<circle cx="121.00" cy="171.00" r="0.95" fill="#cc1f55"/>
<line x1="128.00" y1="174.00" x2="128.00" y2="177.00" stroke="#1c2a8c" stroke-width="0.6"/>
<line x1="127.00" y1="174.00" x2="129.00" y2="174.00" stroke="#1c2a8c" stroke-width="0.5"/>
<line x1="127.00" y1="177.00" x2="129.00" y2="177.00" stroke="#1c2a8c" stroke-width="0.5"/>
<circle cx="128.00" cy="175.50" r="0.95" fill="#1c2a8c"/>
<text x="85.50" y="216.00" font-size="8.2" font-weight="bold" text-anchor="middle" fill="#000" textLength="35.27" lengthAdjust="spacingAndGlyphs" class="s">CHLA-255</text>
<text transform="translate(32.00,247.00) rotate(-90)" font-size="8.0" font-weight="bold" text-anchor="middle" fill="#000" textLength="52.00" lengthAdjust="spacingAndGlyphs" class="s">Apoptosis (%)</text>
<line x1="52.30" y1="221.40" x2="52.30" y2="279.50" stroke="#000" stroke-width="0.8"/>
<line x1="50.70" y1="277.60" x2="52.30" y2="277.60" stroke="#000" stroke-width="0.8"/>
<text x="48.30" y="280.05" font-size="7.0" font-weight="bold" text-anchor="end" fill="#000" textLength="3.11" lengthAdjust="spacingAndGlyphs" class="s">0</text>
<line x1="50.70" y1="266.48" x2="52.30" y2="266.48" stroke="#000" stroke-width="0.8"/>
<text x="48.30" y="268.93" font-size="7.0" font-weight="bold" text-anchor="end" fill="#000" textLength="6.23" lengthAdjust="spacingAndGlyphs" class="s">20</text>
<line x1="50.70" y1="255.36" x2="52.30" y2="255.36" stroke="#000" stroke-width="0.8"/>
<text x="48.30" y="257.81" font-size="7.0" font-weight="bold" text-anchor="end" fill="#000" textLength="6.23" lengthAdjust="spacingAndGlyphs" class="s">40</text>
<line x1="50.70" y1="244.24" x2="52.30" y2="244.24" stroke="#000" stroke-width="0.8"/>
<text x="48.30" y="246.69" font-size="7.0" font-weight="bold" text-anchor="end" fill="#000" textLength="6.23" lengthAdjust="spacingAndGlyphs" class="s">60</text>
<line x1="50.70" y1="233.12" x2="52.30" y2="233.12" stroke="#000" stroke-width="0.8"/>
<text x="48.30" y="235.57" font-size="7.0" font-weight="bold" text-anchor="end" fill="#000" textLength="6.23" lengthAdjust="spacingAndGlyphs" class="s">80</text>
<line x1="50.70" y1="222.00" x2="52.30" y2="222.00" stroke="#000" stroke-width="0.8"/>
<text x="48.30" y="224.45" font-size="7.0" font-weight="bold" text-anchor="end" fill="#000" textLength="9.34" lengthAdjust="spacingAndGlyphs" class="s">100</text>
<line x1="52.30" y1="279.50" x2="143.70" y2="279.50" stroke="#000" stroke-width="0.8"/>
<rect x="57.30" y="267.10" width="8.30" height="12.40" fill="#fff" stroke="#3a3a3a" stroke-width="0.6"/>
<line x1="61.45" y1="267.10" x2="61.45" y2="264.80" stroke="#000" stroke-width="0.6"/>
<line x1="59.15" y1="264.80" x2="63.75" y2="264.80" stroke="#000" stroke-width="0.6"/>
<rect x="66.60" y="275.20" width="8.00" height="4.30" fill="#dcdcdc" stroke="#3a3a3a" stroke-width="0.6"/>
<line x1="70.60" y1="275.20" x2="70.60" y2="274.30" stroke="#000" stroke-width="0.6"/>
<line x1="68.30" y1="274.30" x2="72.90" y2="274.30" stroke="#000" stroke-width="0.6"/>
<rect x="75.60" y="276.10" width="8.60" height="3.40" fill="#727272" stroke="#3a3a3a" stroke-width="0.6"/>
<line x1="79.90" y1="276.10" x2="79.90" y2="275.30" stroke="#000" stroke-width="0.6"/>
<line x1="77.60" y1="275.30" x2="82.20" y2="275.30" stroke="#000" stroke-width="0.6"/>
<rect x="84.80" y="269.40" width="8.30" height="10.10" fill="#000" stroke="#3a3a3a" stroke-width="0.6"/>
<line x1="88.95" y1="269.40" x2="88.95" y2="268.60" stroke="#000" stroke-width="0.6"/>
<line x1="86.65" y1="268.60" x2="91.25" y2="268.60" stroke="#000" stroke-width="0.6"/>
<rect x="103.30" y="239.40" width="8.00" height="40.10" fill="#fff" stroke="#3a3a3a" stroke-width="0.6"/>
<line x1="107.30" y1="239.40" x2="107.30" y2="234.70" stroke="#000" stroke-width="0.6"/>
<line x1="105.00" y1="234.70" x2="109.60" y2="234.70" stroke="#000" stroke-width="0.6"/>
<rect x="112.00" y="261.90" width="8.30" height="17.60" fill="#dcdcdc" stroke="#3a3a3a" stroke-width="0.6"/>
<line x1="116.15" y1="261.90" x2="116.15" y2="261.00" stroke="#000" stroke-width="0.6"/>
<line x1="113.85" y1="261.00" x2="118.45" y2="261.00" stroke="#000" stroke-width="0.6"/>
<rect x="120.80" y="268.20" width="8.50" height="11.30" fill="#727272" stroke="#3a3a3a" stroke-width="0.6"/>
<line x1="125.05" y1="268.20" x2="125.05" y2="264.20" stroke="#000" stroke-width="0.6"/>
<line x1="122.75" y1="264.20" x2="127.35" y2="264.20" stroke="#000" stroke-width="0.6"/>
<rect x="129.80" y="247.50" width="9.00" height="32.00" fill="#000" stroke="#3a3a3a" stroke-width="0.6"/>
<line x1="134.30" y1="247.50" x2="134.30" y2="243.00" stroke="#000" stroke-width="0.6"/>
<line x1="132.00" y1="243.00" x2="136.60" y2="243.00" stroke="#000" stroke-width="0.6"/>
<line x1="75.00" y1="279.50" x2="75.00" y2="281.00" stroke="#000" stroke-width="0.8"/>
<text x="75.00" y="288.50" font-size="6.8" font-weight="bold" text-anchor="middle" fill="#000" textLength="10.85" lengthAdjust="spacingAndGlyphs" class="s">0.05</text>
<line x1="120.50" y1="279.50" x2="120.50" y2="281.00" stroke="#000" stroke-width="0.8"/>
<text x="120.50" y="288.50" font-size="6.8" font-weight="bold" text-anchor="middle" fill="#000" textLength="7.75" lengthAdjust="spacingAndGlyphs" class="s">0.2</text>
<text x="97.50" y="296.00" font-size="7.6" font-weight="bold" text-anchor="middle" fill="#000" textLength="57.00" lengthAdjust="spacingAndGlyphs" class="s">Etoposide (µmol/L)</text>
<text x="70.40" y="273.60" font-size="6.6" font-weight="bold" text-anchor="middle" fill="#000" textLength="2.90" lengthAdjust="spacingAndGlyphs">*</text>
<text x="79.60" y="273.60" font-size="6.6" font-weight="bold" text-anchor="middle" fill="#000" textLength="5.20" lengthAdjust="spacingAndGlyphs">**</text>
<text x="88.90" y="266.10" font-size="6.0" font-weight="normal" text-anchor="middle" fill="#000" textLength="7.60" lengthAdjust="spacingAndGlyphs">n.s.</text>
<text x="116.60" y="259.30" font-size="6.6" font-weight="bold" text-anchor="middle" fill="#000" textLength="7.00" lengthAdjust="spacingAndGlyphs">***</text>
<text x="125.00" y="264.20" font-size="6.6" font-weight="bold" text-anchor="middle" fill="#000" textLength="7.00" lengthAdjust="spacingAndGlyphs">***</text>
<text x="134.30" y="241.60" font-size="6.6" font-weight="bold" text-anchor="middle" fill="#000" textLength="2.90" lengthAdjust="spacingAndGlyphs">*</text>
<rect x="54.80" y="221.20" width="5.30" height="3.60" fill="#fff" stroke="#000" stroke-width="0.5"/>
<text x="61.60" y="225.10" font-size="6.0" font-weight="normal" text-anchor="start" fill="#111" textLength="16.00" lengthAdjust="spacingAndGlyphs">NB CM</text>
<rect x="54.80" y="228.40" width="5.30" height="3.60" fill="#dcdcdc" stroke="#000" stroke-width="0.5"/>
<text x="61.60" y="232.30" font-size="6.0" font-weight="normal" text-anchor="start" fill="#111" textLength="39.00" lengthAdjust="spacingAndGlyphs">NB/CAF-MSC CM</text>
<rect x="54.80" y="235.40" width="5.30" height="3.60" fill="#727272" stroke="#000" stroke-width="0.5"/>
<text x="61.60" y="239.30" font-size="6.0" font-weight="normal" text-anchor="start" fill="#111" textLength="37.00" lengthAdjust="spacingAndGlyphs">NB/BM-MSC CM</text>
<rect x="54.80" y="242.50" width="5.30" height="3.60" fill="#000" stroke="#000" stroke-width="0.5"/>
<text x="61.60" y="246.40" font-size="6.0" font-weight="normal" text-anchor="start" fill="#111" textLength="23.00" lengthAdjust="spacingAndGlyphs">NB/Fb CM</text>
<text x="218.50" y="217.20" font-size="8.2" font-weight="bold" text-anchor="middle" fill="#000" textLength="30.75" lengthAdjust="spacingAndGlyphs" class="s">SK-N-SH</text>
<text transform="translate(160.00,248.00) rotate(-90)" font-size="8.0" font-weight="bold" text-anchor="middle" fill="#000" textLength="49.00" lengthAdjust="spacingAndGlyphs" class="s">Apoptosis (%)</text>
<line x1="177.90" y1="221.20" x2="177.90" y2="279.30" stroke="#000" stroke-width="0.8"/>
<line x1="176.30" y1="277.60" x2="177.90" y2="277.60" stroke="#000" stroke-width="0.8"/>
<text x="176.10" y="280.05" font-size="7.0" font-weight="bold" text-anchor="end" fill="#000" textLength="3.19" lengthAdjust="spacingAndGlyphs" class="s">0</text>
<line x1="176.30" y1="266.44" x2="177.90" y2="266.44" stroke="#000" stroke-width="0.8"/>
<text x="176.10" y="268.89" font-size="7.0" font-weight="bold" text-anchor="end" fill="#000" textLength="6.38" lengthAdjust="spacingAndGlyphs" class="s">20</text>
<line x1="176.30" y1="255.28" x2="177.90" y2="255.28" stroke="#000" stroke-width="0.8"/>
<text x="176.10" y="257.73" font-size="7.0" font-weight="bold" text-anchor="end" fill="#000" textLength="6.38" lengthAdjust="spacingAndGlyphs" class="s">40</text>
<line x1="176.30" y1="244.12" x2="177.90" y2="244.12" stroke="#000" stroke-width="0.8"/>
<text x="176.10" y="246.57" font-size="7.0" font-weight="bold" text-anchor="end" fill="#000" textLength="6.38" lengthAdjust="spacingAndGlyphs" class="s">60</text>
<line x1="176.30" y1="232.96" x2="177.90" y2="232.96" stroke="#000" stroke-width="0.8"/>
<text x="176.10" y="235.41" font-size="7.0" font-weight="bold" text-anchor="end" fill="#000" textLength="6.38" lengthAdjust="spacingAndGlyphs" class="s">80</text>
<line x1="176.30" y1="221.80" x2="177.90" y2="221.80" stroke="#000" stroke-width="0.8"/>
<text x="176.10" y="224.25" font-size="7.0" font-weight="bold" text-anchor="end" fill="#000" textLength="9.58" lengthAdjust="spacingAndGlyphs" class="s">100</text>
<line x1="177.90" y1="279.30" x2="265.00" y2="279.30" stroke="#000" stroke-width="0.8"/>
<rect x="183.50" y="257.10" width="8.20" height="22.20" fill="#fff" stroke="#3a3a3a" stroke-width="0.6"/>
<line x1="187.60" y1="257.10" x2="187.60" y2="253.30" stroke="#000" stroke-width="0.6"/>
<line x1="185.30" y1="253.30" x2="189.90" y2="253.30" stroke="#000" stroke-width="0.6"/>
<rect x="192.40" y="271.80" width="7.90" height="7.50" fill="#dcdcdc" stroke="#3a3a3a" stroke-width="0.6"/>
<line x1="196.35" y1="271.80" x2="196.35" y2="270.00" stroke="#000" stroke-width="0.6"/>
<line x1="194.05" y1="270.00" x2="198.65" y2="270.00" stroke="#000" stroke-width="0.6"/>
<rect x="201.10" y="268.40" width="8.70" height="10.90" fill="#727272" stroke="#3a3a3a" stroke-width="0.6"/>
<line x1="205.45" y1="268.40" x2="205.45" y2="265.90" stroke="#000" stroke-width="0.6"/>
<line x1="203.15" y1="265.90" x2="207.75" y2="265.90" stroke="#000" stroke-width="0.6"/>
<rect x="210.30" y="261.00" width="8.20" height="18.30" fill="#000" stroke="#3a3a3a" stroke-width="0.6"/>
<line x1="214.40" y1="261.00" x2="214.40" y2="257.70" stroke="#000" stroke-width="0.6"/>
<line x1="212.10" y1="257.70" x2="216.70" y2="257.70" stroke="#000" stroke-width="0.6"/>
<rect x="228.40" y="233.00" width="8.20" height="46.30" fill="#fff" stroke="#3a3a3a" stroke-width="0.6"/>
<line x1="232.50" y1="233.00" x2="232.50" y2="230.30" stroke="#000" stroke-width="0.6"/>
<line x1="230.20" y1="230.30" x2="234.80" y2="230.30" stroke="#000" stroke-width="0.6"/>
<rect x="237.10" y="259.20" width="8.80" height="20.10" fill="#dcdcdc" stroke="#3a3a3a" stroke-width="0.6"/>
<line x1="241.50" y1="259.20" x2="241.50" y2="254.20" stroke="#000" stroke-width="0.6"/>
<line x1="239.20" y1="254.20" x2="243.80" y2="254.20" stroke="#000" stroke-width="0.6"/>
<rect x="246.30" y="252.20" width="8.30" height="27.10" fill="#727272" stroke="#3a3a3a" stroke-width="0.6"/>
<line x1="250.45" y1="252.20" x2="250.45" y2="249.20" stroke="#000" stroke-width="0.6"/>
<line x1="248.15" y1="249.20" x2="252.75" y2="249.20" stroke="#000" stroke-width="0.6"/>
<rect x="255.00" y="237.30" width="9.00" height="42.00" fill="#000" stroke="#3a3a3a" stroke-width="0.6"/>
<line x1="259.50" y1="237.30" x2="259.50" y2="232.30" stroke="#000" stroke-width="0.6"/>
<line x1="257.20" y1="232.30" x2="261.80" y2="232.30" stroke="#000" stroke-width="0.6"/>
<line x1="204.80" y1="279.30" x2="204.80" y2="280.80" stroke="#000" stroke-width="0.8"/>
<text x="204.80" y="288.30" font-size="6.8" font-weight="bold" text-anchor="middle" fill="#000" textLength="10.85" lengthAdjust="spacingAndGlyphs" class="s">0.05</text>
<line x1="250.80" y1="279.30" x2="250.80" y2="280.80" stroke="#000" stroke-width="0.8"/>
<text x="250.80" y="288.30" font-size="6.8" font-weight="bold" text-anchor="middle" fill="#000" textLength="7.75" lengthAdjust="spacingAndGlyphs" class="s">0.2</text>
<text x="222.10" y="295.80" font-size="7.6" font-weight="bold" text-anchor="middle" fill="#000" textLength="47.50" lengthAdjust="spacingAndGlyphs" class="s">Etoposide (µmol/L)</text>
<text x="196.10" y="268.40" font-size="6.6" font-weight="bold" text-anchor="middle" fill="#000" textLength="7.00" lengthAdjust="spacingAndGlyphs">***</text>
<text x="204.80" y="264.20" font-size="6.6" font-weight="bold" text-anchor="middle" fill="#000" textLength="5.20" lengthAdjust="spacingAndGlyphs">**</text>
<text x="214.30" y="254.60" font-size="6.0" font-weight="normal" text-anchor="middle" fill="#000" textLength="7.60" lengthAdjust="spacingAndGlyphs">n.s.</text>
<text x="241.20" y="252.00" font-size="6.6" font-weight="bold" text-anchor="middle" fill="#000" textLength="7.00" lengthAdjust="spacingAndGlyphs">***</text>
<text x="249.60" y="248.30" font-size="6.6" font-weight="bold" text-anchor="middle" fill="#000" textLength="7.00" lengthAdjust="spacingAndGlyphs">***</text>
<text x="259.00" y="230.90" font-size="6.0" font-weight="normal" text-anchor="middle" fill="#000" textLength="7.60" lengthAdjust="spacingAndGlyphs">n.s.</text>
<text transform="translate(362.60,225.40) rotate(-90)" font-size="6.4" font-weight="bold" text-anchor="middle" fill="#000" textLength="25.50" lengthAdjust="spacingAndGlyphs">Untreated</text>
<text x="385.00" y="214.90" font-size="6.6" font-weight="bold" text-anchor="middle" fill="#000" textLength="8.58" lengthAdjust="spacingAndGlyphs" class="s">NB</text>
<text x="385.00" y="223.40" font-size="6.6" font-weight="bold" text-anchor="middle" fill="#000" textLength="9.24" lengthAdjust="spacingAndGlyphs" class="s">CM</text>
<line x1="371.60" y1="227.60" x2="401.00" y2="227.60" stroke="#000" stroke-width="0.9"/>
<text x="416.50" y="214.90" font-size="6.6" font-weight="bold" text-anchor="middle" fill="#000" textLength="10.23" lengthAdjust="spacingAndGlyphs" class="s">NB/</text>
<text x="418.30" y="223.40" font-size="6.6" font-weight="bold" text-anchor="middle" fill="#000" textLength="34.60" lengthAdjust="spacingAndGlyphs" class="s">CAF-MSC CM</text>
<line x1="405.40" y1="227.60" x2="435.60" y2="227.60" stroke="#000" stroke-width="0.9"/>
<text x="458.20" y="214.90" font-size="6.6" font-weight="bold" text-anchor="middle" fill="#000" textLength="10.23" lengthAdjust="spacingAndGlyphs" class="s">NB/</text>
<text x="458.20" y="223.40" font-size="6.6" font-weight="bold" text-anchor="middle" fill="#000" textLength="32.00" lengthAdjust="spacingAndGlyphs" class="s">BM-MSC CM</text>
<line x1="443.00" y1="227.60" x2="472.40" y2="227.60" stroke="#000" stroke-width="0.9"/>
<text x="495.80" y="214.90" font-size="6.6" font-weight="bold" text-anchor="middle" fill="#000" textLength="10.23" lengthAdjust="spacingAndGlyphs" class="s">NB/</text>
<text x="495.80" y="223.40" font-size="6.6" font-weight="bold" text-anchor="middle" fill="#000" textLength="16.40" lengthAdjust="spacingAndGlyphs" class="s">Fb CM</text>
<line x1="481.90" y1="227.60" x2="510.40" y2="227.60" stroke="#000" stroke-width="0.9"/>
<text x="322.20" y="237.90" font-size="6.6" font-weight="bold" text-anchor="middle" fill="#000" textLength="50.50" lengthAdjust="spacingAndGlyphs" class="s">Etoposide (µmol/L)</text>
<text x="379.40" y="237.90" font-size="7.0" font-weight="bold" text-anchor="middle" fill="#000" textLength="10.90" lengthAdjust="spacingAndGlyphs" class="s">0.05</text>
<text x="394.60" y="237.90" font-size="7.0" font-weight="bold" text-anchor="middle" fill="#000" textLength="7.78" lengthAdjust="spacingAndGlyphs" class="s">0.2</text>
<text x="414.00" y="237.90" font-size="7.0" font-weight="bold" text-anchor="middle" fill="#000" textLength="10.90" lengthAdjust="spacingAndGlyphs" class="s">0.05</text>
<text x="430.90" y="237.90" font-size="7.0" font-weight="bold" text-anchor="middle" fill="#000" textLength="7.78" lengthAdjust="spacingAndGlyphs" class="s">0.2</text>
<text x="450.30" y="237.90" font-size="7.0" font-weight="bold" text-anchor="middle" fill="#000" textLength="10.90" lengthAdjust="spacingAndGlyphs" class="s">0.05</text>
<text x="467.60" y="237.90" font-size="7.0" font-weight="bold" text-anchor="middle" fill="#000" textLength="7.78" lengthAdjust="spacingAndGlyphs" class="s">0.2</text>
<text x="487.50" y="237.90" font-size="7.0" font-weight="bold" text-anchor="middle" fill="#000" textLength="10.90" lengthAdjust="spacingAndGlyphs" class="s">0.05</text>
<text x="505.70" y="237.90" font-size="7.0" font-weight="bold" text-anchor="middle" fill="#000" textLength="7.78" lengthAdjust="spacingAndGlyphs" class="s">0.2</text>
<text x="344.60" y="250.80" font-size="6.8" font-weight="bold" text-anchor="end" fill="#000" textLength="48.80" lengthAdjust="spacingAndGlyphs" class="s">Cleaved caspase-3</text>
<text x="344.60" y="264.60" font-size="6.8" font-weight="bold" text-anchor="end" fill="#000" textLength="27.00" lengthAdjust="spacingAndGlyphs" class="s">Caspase-3</text>
<text x="344.60" y="285.90" font-size="6.8" font-weight="bold" text-anchor="end" fill="#000" textLength="18.50" lengthAdjust="spacingAndGlyphs" class="s">β-Actin</text>
<rect x="350.50" y="239.70" width="168.80" height="13.80" fill="#efefef" stroke="#8c8c8c" stroke-width="0.7"/>
<rect x="350.50" y="256.70" width="168.80" height="12.00" fill="#efefef" stroke="#8c8c8c" stroke-width="0.7"/>
<rect x="350.50" y="278.30" width="168.80" height="13.20" fill="#efefef" stroke="#8c8c8c" stroke-width="0.7"/>
<path d="M351.5,244.2 Q360,245 368,248.2" stroke="#b4b4b4" stroke-width="0.9" fill="none"/>
<g filter="url(#bb)" stroke-linecap="round">
<line x1="372.30" y1="246.20" x2="386.70" y2="246.20" stroke="rgb(35,35,35)" stroke-width="1.5"/>
<line x1="372.30" y1="249.00" x2="386.70" y2="249.00" stroke="rgb(11,11,11)" stroke-width="1.8"/>
<line x1="390.00" y1="246.20" x2="404.40" y2="246.20" stroke="rgb(46,46,46)" stroke-width="1.5"/>
<line x1="390.00" y1="249.00" x2="404.40" y2="249.00" stroke="rgb(11,11,11)" stroke-width="1.8"/>
<line x1="409.00" y1="247.35" x2="423.40" y2="247.05" stroke="rgb(206,206,206)" stroke-width="1.5"/>
<line x1="409.00" y1="249.75" x2="423.40" y2="249.45" stroke="rgb(105,105,105)" stroke-width="1.8"/>
<line x1="428.70" y1="246.25" x2="443.10" y2="245.75" stroke="rgb(164,164,164)" stroke-width="1.5"/>
<line x1="428.70" y1="249.05" x2="443.10" y2="248.55" stroke="rgb(35,35,35)" stroke-width="1.8"/>
<line x1="446.90" y1="248.80" x2="461.30" y2="246.80" stroke="rgb(206,206,206)" stroke-width="1.5"/>
<line x1="446.90" y1="251.20" x2="461.30" y2="249.20" stroke="rgb(141,141,141)" stroke-width="1.8"/>
<line x1="464.90" y1="247.35" x2="479.30" y2="245.85" stroke="rgb(152,152,152)" stroke-width="1.5"/>
<line x1="464.90" y1="249.35" x2="479.30" y2="247.85" stroke="rgb(35,35,35)" stroke-width="1.8"/>
<line x1="482.20" y1="246.80" x2="496.60" y2="244.80" stroke="rgb(105,105,105)" stroke-width="1.5"/>
<line x1="482.20" y1="249.20" x2="496.60" y2="247.20" stroke="rgb(23,23,23)" stroke-width="1.8"/>
<line x1="499.10" y1="246.30" x2="513.50" y2="243.30" stroke="rgb(82,82,82)" stroke-width="1.5"/>
<line x1="499.10" y1="248.70" x2="513.50" y2="245.70" stroke="rgb(23,23,23)" stroke-width="1.8"/>
<line x1="353.90" y1="264.00" x2="366.30" y2="264.00" stroke="#151515" stroke-width="4.0"/>
<line x1="353.70" y1="286.60" x2="366.50" y2="286.60" stroke="#1a1a1a" stroke-width="3.0"/>
<line x1="373.30" y1="263.77" x2="385.70" y2="263.77" stroke="#151515" stroke-width="4.0"/>
<line x1="373.10" y1="286.38" x2="385.90" y2="286.38" stroke="#1a1a1a" stroke-width="3.0"/>
<line x1="391.00" y1="263.55" x2="403.40" y2="263.55" stroke="#151515" stroke-width="4.0"/>
<line x1="390.80" y1="286.15" x2="403.60" y2="286.15" stroke="#1a1a1a" stroke-width="3.0"/>
<line x1="410.00" y1="263.32" x2="422.40" y2="263.32" stroke="#151515" stroke-width="4.0"/>
<line x1="409.80" y1="285.93" x2="422.60" y2="285.93" stroke="#1a1a1a" stroke-width="3.0"/>
<line x1="429.70" y1="263.10" x2="442.10" y2="263.10" stroke="#151515" stroke-width="4.0"/>
<line x1="429.50" y1="285.70" x2="442.30" y2="285.70" stroke="#1a1a1a" stroke-width="3.0"/>
<line x1="447.90" y1="262.88" x2="460.30" y2="262.88" stroke="#151515" stroke-width="4.0"/>
<line x1="447.70" y1="285.48" x2="460.50" y2="285.48" stroke="#1a1a1a" stroke-width="3.0"/>
<line x1="465.90" y1="262.80" x2="478.30" y2="262.50" stroke="#151515" stroke-width="4.0"/>
<line x1="465.70" y1="285.40" x2="478.50" y2="285.10" stroke="#1a1a1a" stroke-width="3.0"/>
<line x1="483.20" y1="262.82" x2="495.60" y2="262.02" stroke="#151515" stroke-width="4.0"/>
<line x1="483.00" y1="285.43" x2="495.80" y2="284.62" stroke="#1a1a1a" stroke-width="3.0"/>
<line x1="500.10" y1="262.95" x2="512.50" y2="261.45" stroke="#151515" stroke-width="4.0"/>
<line x1="499.90" y1="285.55" x2="512.70" y2="284.05" stroke="#1a1a1a" stroke-width="3.0"/>
</g>
<text x="360.50" y="276.60" font-size="6.2" font-weight="normal" text-anchor="middle" fill="#111" textLength="2.93" lengthAdjust="spacingAndGlyphs">1</text>
<text x="377.90" y="276.60" font-size="6.2" font-weight="normal" text-anchor="middle" fill="#111" textLength="7.33" lengthAdjust="spacingAndGlyphs">4.0</text>
<text x="394.10" y="276.60" font-size="6.2" font-weight="normal" text-anchor="middle" fill="#111" textLength="7.33" lengthAdjust="spacingAndGlyphs">6.1</text>
<text x="414.80" y="276.60" font-size="6.2" font-weight="normal" text-anchor="middle" fill="#111" textLength="7.33" lengthAdjust="spacingAndGlyphs">1.4</text>
<text x="435.00" y="276.60" font-size="6.2" font-weight="normal" text-anchor="middle" fill="#111" textLength="7.33" lengthAdjust="spacingAndGlyphs">3.3</text>
<text x="453.20" y="276.60" font-size="6.2" font-weight="normal" text-anchor="middle" fill="#111" textLength="7.33" lengthAdjust="spacingAndGlyphs">1.7</text>
<text x="472.70" y="276.60" font-size="6.2" font-weight="normal" text-anchor="middle" fill="#111" textLength="7.33" lengthAdjust="spacingAndGlyphs">3.8</text>
<text x="489.40" y="276.60" font-size="6.2" font-weight="normal" text-anchor="middle" fill="#111" textLength="7.33" lengthAdjust="spacingAndGlyphs">4.1</text>
<text x="506.40" y="276.60" font-size="6.2" font-weight="normal" text-anchor="middle" fill="#111" textLength="7.33" lengthAdjust="spacingAndGlyphs">5.7</text>
<text x="85.30" y="313.40" font-size="8.4" font-weight="bold" text-anchor="middle" fill="#000" textLength="36.13" lengthAdjust="spacingAndGlyphs" class="s">CHLA-255</text>
<text transform="translate(23.20,350.40) rotate(-90)" font-size="9.2" font-weight="bold" text-anchor="middle" fill="#000" textLength="75.00" lengthAdjust="spacingAndGlyphs" class="s">Caspase-3/7 activity</text>
<text transform="translate(34.40,349.90) rotate(-90)" font-size="9.2" font-weight="bold" text-anchor="middle" fill="#000" textLength="51.50" lengthAdjust="spacingAndGlyphs" class="s">(fold change)</text>
<line x1="52.30" y1="318.90" x2="52.30" y2="379.60" stroke="#000" stroke-width="0.8"/>
<line x1="50.70" y1="379.20" x2="52.30" y2="379.20" stroke="#000" stroke-width="0.8"/>
<text x="49.90" y="381.65" font-size="7.0" font-weight="bold" text-anchor="end" fill="#000" textLength="3.19" lengthAdjust="spacingAndGlyphs" class="s">0</text>
<line x1="50.70" y1="364.20" x2="52.30" y2="364.20" stroke="#000" stroke-width="0.8"/>
<text x="49.90" y="366.65" font-size="7.0" font-weight="bold" text-anchor="end" fill="#000" textLength="3.19" lengthAdjust="spacingAndGlyphs" class="s">5</text>
<line x1="50.70" y1="349.20" x2="52.30" y2="349.20" stroke="#000" stroke-width="0.8"/>
<text x="49.90" y="351.65" font-size="7.0" font-weight="bold" text-anchor="end" fill="#000" textLength="6.38" lengthAdjust="spacingAndGlyphs" class="s">10</text>
<line x1="50.70" y1="334.20" x2="52.30" y2="334.20" stroke="#000" stroke-width="0.8"/>
<text x="49.90" y="336.65" font-size="7.0" font-weight="bold" text-anchor="end" fill="#000" textLength="6.38" lengthAdjust="spacingAndGlyphs" class="s">15</text>
<line x1="50.70" y1="319.20" x2="52.30" y2="319.20" stroke="#000" stroke-width="0.8"/>
<text x="49.90" y="321.65" font-size="7.0" font-weight="bold" text-anchor="end" fill="#000" textLength="6.38" lengthAdjust="spacingAndGlyphs" class="s">20</text>
<line x1="52.30" y1="379.60" x2="138.00" y2="379.60" stroke="#000" stroke-width="0.8"/>
<line x1="66.30" y1="379.60" x2="66.30" y2="381.40" stroke="#000" stroke-width="0.8"/>
<text x="65.30" y="389.80" font-size="6.6" font-weight="bold" text-anchor="middle" fill="#000" textLength="11.56" lengthAdjust="spacingAndGlyphs" class="s">0.01</text>
<line x1="96.40" y1="379.60" x2="96.40" y2="381.40" stroke="#000" stroke-width="0.8"/>
<text x="97.30" y="389.80" font-size="6.6" font-weight="bold" text-anchor="middle" fill="#000" textLength="8.26" lengthAdjust="spacingAndGlyphs" class="s">0.1</text>
<line x1="126.50" y1="379.60" x2="126.50" y2="381.40" stroke="#000" stroke-width="0.8"/>
<text x="125.50" y="389.80" font-size="6.6" font-weight="bold" text-anchor="middle" fill="#000" textLength="3.30" lengthAdjust="spacingAndGlyphs" class="s">1</text>
<line x1="54.32" y1="379.60" x2="54.32" y2="380.60" stroke="#000" stroke-width="0.5"/>
<line x1="57.24" y1="379.60" x2="57.24" y2="380.60" stroke="#000" stroke-width="0.5"/>
<line x1="59.62" y1="379.60" x2="59.62" y2="380.60" stroke="#000" stroke-width="0.5"/>
<line x1="61.64" y1="379.60" x2="61.64" y2="380.60" stroke="#000" stroke-width="0.5"/>
<line x1="63.38" y1="379.60" x2="63.38" y2="380.60" stroke="#000" stroke-width="0.5"/>
<line x1="64.92" y1="379.60" x2="64.92" y2="380.60" stroke="#000" stroke-width="0.5"/>
<line x1="75.36" y1="379.60" x2="75.36" y2="380.60" stroke="#000" stroke-width="0.5"/>
<line x1="80.66" y1="379.60" x2="80.66" y2="380.60" stroke="#000" stroke-width="0.5"/>
<line x1="84.42" y1="379.60" x2="84.42" y2="380.60" stroke="#000" stroke-width="0.5"/>
<line x1="87.34" y1="379.60" x2="87.34" y2="380.60" stroke="#000" stroke-width="0.5"/>
<line x1="89.72" y1="379.60" x2="89.72" y2="380.60" stroke="#000" stroke-width="0.5"/>
<line x1="91.74" y1="379.60" x2="91.74" y2="380.60" stroke="#000" stroke-width="0.5"/>
<line x1="93.48" y1="379.60" x2="93.48" y2="380.60" stroke="#000" stroke-width="0.5"/>
<line x1="95.02" y1="379.60" x2="95.02" y2="380.60" stroke="#000" stroke-width="0.5"/>
<line x1="105.46" y1="379.60" x2="105.46" y2="380.60" stroke="#000" stroke-width="0.5"/>
<line x1="110.76" y1="379.60" x2="110.76" y2="380.60" stroke="#000" stroke-width="0.5"/>
<line x1="114.52" y1="379.60" x2="114.52" y2="380.60" stroke="#000" stroke-width="0.5"/>
<line x1="117.44" y1="379.60" x2="117.44" y2="380.60" stroke="#000" stroke-width="0.5"/>
<line x1="119.82" y1="379.60" x2="119.82" y2="380.60" stroke="#000" stroke-width="0.5"/>
<line x1="121.84" y1="379.60" x2="121.84" y2="380.60" stroke="#000" stroke-width="0.5"/>
<line x1="123.58" y1="379.60" x2="123.58" y2="380.60" stroke="#000" stroke-width="0.5"/>
<line x1="125.12" y1="379.60" x2="125.12" y2="380.60" stroke="#000" stroke-width="0.5"/>
<line x1="135.56" y1="379.60" x2="135.56" y2="380.60" stroke="#000" stroke-width="0.5"/>
<text x="97.30" y="400.20" font-size="7.8" font-weight="bold" text-anchor="middle" fill="#000" textLength="55.00" lengthAdjust="spacingAndGlyphs" class="s">Etoposide (µmol/L)</text>
<path d="M52.50,378.57 L53.87,378.57 L55.23,378.56 L56.60,378.56 L57.96,378.55 L59.33,378.55 L60.70,378.54 L62.06,378.54 L63.43,378.53 L64.80,378.52 L66.16,378.51 L67.53,378.50 L68.89,378.49 L70.26,378.48 L71.63,378.47 L72.99,378.46 L74.36,378.44 L75.73,378.42 L77.09,378.40 L78.46,378.38 L79.82,378.36 L81.19,378.33 L82.56,378.30 L83.92,378.27 L85.29,378.24 L86.65,378.20 L88.02,378.16 L89.39,378.11 L90.75,378.06 L92.12,378.00 L93.49,377.94 L94.85,377.87 L96.22,377.79 L97.58,377.71 L98.95,377.62 L100.32,377.52 L101.68,377.41 L103.05,377.29 L104.41,377.17 L105.78,377.03 L107.15,376.88 L108.51,376.71 L109.88,376.54 L111.25,376.35 L112.61,376.15 L113.98,375.94 L115.34,375.71 L116.71,375.46 L118.08,375.21 L119.44,374.94 L120.81,374.66 L122.18,374.36 L123.54,374.06 L124.91,373.75 L126.27,373.42 L127.64,373.09 L129.01,372.76 L130.37,372.42 L131.74,372.08 L133.10,371.73 L134.47,371.39" stroke="#6fb4e4" stroke-width="1.0" fill="none"/>
<path d="M52.50,378.20 L53.87,378.19 L55.23,378.18 L56.60,378.17 L57.96,378.15 L59.33,378.14 L60.70,378.12 L62.06,378.10 L63.43,378.08 L64.80,378.05 L66.16,378.02 L67.53,377.99 L68.89,377.96 L70.26,377.92 L71.63,377.88 L72.99,377.84 L74.36,377.79 L75.73,377.73 L77.09,377.67 L78.46,377.60 L79.82,377.52 L81.19,377.44 L82.56,377.35 L83.92,377.24 L85.29,377.13 L86.65,377.00 L88.02,376.87 L89.39,376.71 L90.75,376.54 L92.12,376.36 L93.49,376.15 L94.85,375.93 L96.22,375.68 L97.58,375.41 L98.95,375.11 L100.32,374.78 L101.68,374.42 L103.05,374.03 L104.41,373.61 L105.78,373.14 L107.15,372.64 L108.51,372.09 L109.88,371.50 L111.25,370.86 L112.61,370.17 L113.98,369.43 L115.34,368.64 L116.71,367.80 L118.08,366.90 L119.44,365.95 L120.81,364.95 L122.18,363.90 L123.54,362.79 L124.91,361.65 L126.27,360.46 L127.64,359.23 L129.01,357.97 L130.37,356.69 L131.74,355.38 L133.10,354.07 L134.47,352.74" stroke="#1c2a8c" stroke-width="1.0" fill="none"/>
<path d="M52.50,377.08 L53.87,377.01 L55.23,376.94 L56.60,376.86 L57.96,376.78 L59.33,376.69 L60.70,376.59 L62.06,376.48 L63.43,376.36 L64.80,376.24 L66.16,376.10 L67.53,375.95 L68.89,375.79 L70.26,375.62 L71.63,375.43 L72.99,375.23 L74.36,375.01 L75.73,374.77 L77.09,374.51 L78.46,374.24 L79.82,373.94 L81.19,373.62 L82.56,373.27 L83.92,372.90 L85.29,372.50 L86.65,372.07 L88.02,371.61 L89.39,371.12 L90.75,370.59 L92.12,370.02 L93.49,369.42 L94.85,368.78 L96.22,368.09 L97.58,367.37 L98.95,366.60 L100.32,365.78 L101.68,364.92 L103.05,364.00 L104.41,363.05 L105.78,362.04 L107.15,360.98 L108.51,359.88 L109.88,358.73 L111.25,357.53 L112.61,356.29 L113.98,355.01 L115.34,353.68 L116.71,352.32 L118.08,350.93 L119.44,349.51 L120.81,348.06 L122.18,346.59 L123.54,345.10 L124.91,343.60 L126.27,342.10 L127.64,340.59 L129.01,339.09 L130.37,337.60 L131.74,336.13 L133.10,334.67 L134.47,333.24" stroke="#a12aa8" stroke-width="1.0" fill="none"/>
<path d="M52.50,376.83 L53.87,376.76 L55.23,376.68 L56.60,376.59 L57.96,376.50 L59.33,376.39 L60.70,376.28 L62.06,376.16 L63.43,376.03 L64.80,375.89 L66.16,375.73 L67.53,375.56 L68.89,375.38 L70.26,375.19 L71.63,374.98 L72.99,374.75 L74.36,374.50 L75.73,374.23 L77.09,373.94 L78.46,373.63 L79.82,373.30 L81.19,372.94 L82.56,372.55 L83.92,372.13 L85.29,371.68 L86.65,371.20 L88.02,370.68 L89.39,370.12 L90.75,369.53 L92.12,368.89 L93.49,368.22 L94.85,367.49 L96.22,366.72 L97.58,365.91 L98.95,365.04 L100.32,364.12 L101.68,363.15 L103.05,362.12 L104.41,361.05 L105.78,359.91 L107.15,358.72 L108.51,357.48 L109.88,356.19 L111.25,354.84 L112.61,353.44 L113.98,352.00 L115.34,350.51 L116.71,348.98 L118.08,347.41 L119.44,345.81 L120.81,344.18 L122.18,342.53 L123.54,340.86 L124.91,339.17 L126.27,337.48 L127.64,335.79 L129.01,334.10 L130.37,332.42 L131.74,330.76 L133.10,329.12 L134.47,327.51" stroke="#cc1f55" stroke-width="1.0" fill="none"/>
<line x1="70.70" y1="366.60" x2="70.70" y2="373.80" stroke="#cc1f55" stroke-width="0.6"/>
<line x1="69.70" y1="366.60" x2="71.70" y2="366.60" stroke="#cc1f55" stroke-width="0.5"/>
<line x1="69.70" y1="373.80" x2="71.70" y2="373.80" stroke="#cc1f55" stroke-width="0.5"/>
<circle cx="70.70" cy="370.20" r="0.95" fill="#cc1f55"/>
<line x1="79.28" y1="375.30" x2="79.28" y2="378.30" stroke="#1c2a8c" stroke-width="0.6"/>
<line x1="78.28" y1="375.30" x2="80.28" y2="375.30" stroke="#1c2a8c" stroke-width="0.5"/>
<line x1="78.28" y1="378.30" x2="80.28" y2="378.30" stroke="#1c2a8c" stroke-width="0.5"/>
<circle cx="79.28" cy="376.80" r="0.95" fill="#1c2a8c"/>
<line x1="88.58" y1="374.70" x2="88.58" y2="377.70" stroke="#1c2a8c" stroke-width="0.6"/>
<line x1="87.58" y1="374.70" x2="89.58" y2="374.70" stroke="#1c2a8c" stroke-width="0.5"/>
<line x1="87.58" y1="377.70" x2="89.58" y2="377.70" stroke="#1c2a8c" stroke-width="0.5"/>
<circle cx="88.58" cy="376.20" r="0.95" fill="#1c2a8c"/>
<line x1="97.65" y1="370.20" x2="97.65" y2="376.20" stroke="#cc1f55" stroke-width="0.6"/>
<line x1="96.65" y1="370.20" x2="98.65" y2="370.20" stroke="#cc1f55" stroke-width="0.5"/>
<line x1="96.65" y1="376.20" x2="98.65" y2="376.20" stroke="#cc1f55" stroke-width="0.5"/>
<circle cx="97.65" cy="373.20" r="0.95" fill="#cc1f55"/>
<line x1="97.65" y1="374.10" x2="97.65" y2="377.10" stroke="#1c2a8c" stroke-width="0.6"/>
<line x1="96.65" y1="374.10" x2="98.65" y2="374.10" stroke="#1c2a8c" stroke-width="0.5"/>
<line x1="96.65" y1="377.10" x2="98.65" y2="377.10" stroke="#1c2a8c" stroke-width="0.5"/>
<circle cx="97.65" cy="375.60" r="0.95" fill="#1c2a8c"/>
<line x1="106.71" y1="369.00" x2="106.71" y2="376.20" stroke="#6fb4e4" stroke-width="0.6"/>
<line x1="105.71" y1="369.00" x2="107.71" y2="369.00" stroke="#6fb4e4" stroke-width="0.5"/>
<line x1="105.71" y1="376.20" x2="107.71" y2="376.20" stroke="#6fb4e4" stroke-width="0.5"/>
<circle cx="106.71" cy="372.60" r="0.95" fill="#6fb4e4"/>
<line x1="106.71" y1="359.70" x2="106.71" y2="368.70" stroke="#cc1f55" stroke-width="0.6"/>
<line x1="105.71" y1="359.70" x2="107.71" y2="359.70" stroke="#cc1f55" stroke-width="0.5"/>
<line x1="105.71" y1="368.70" x2="107.71" y2="368.70" stroke="#cc1f55" stroke-width="0.5"/>
<circle cx="106.71" cy="364.20" r="0.95" fill="#cc1f55"/>
<line x1="115.77" y1="364.20" x2="115.77" y2="370.20" stroke="#1c2a8c" stroke-width="0.6"/>
<line x1="114.77" y1="364.20" x2="116.77" y2="364.20" stroke="#1c2a8c" stroke-width="0.5"/>
<line x1="114.77" y1="370.20" x2="116.77" y2="370.20" stroke="#1c2a8c" stroke-width="0.5"/>
<circle cx="115.77" cy="367.20" r="0.95" fill="#1c2a8c"/>
<line x1="115.77" y1="351.30" x2="115.77" y2="360.30" stroke="#cc1f55" stroke-width="0.6"/>
<line x1="114.77" y1="351.30" x2="116.77" y2="351.30" stroke="#cc1f55" stroke-width="0.5"/>
<line x1="114.77" y1="360.30" x2="116.77" y2="360.30" stroke="#cc1f55" stroke-width="0.5"/>
<circle cx="115.77" cy="355.80" r="0.95" fill="#cc1f55"/>
<line x1="124.83" y1="357.90" x2="124.83" y2="362.70" stroke="#1c2a8c" stroke-width="0.6"/>
<line x1="123.83" y1="357.90" x2="125.83" y2="357.90" stroke="#1c2a8c" stroke-width="0.5"/>
<line x1="123.83" y1="362.70" x2="125.83" y2="362.70" stroke="#1c2a8c" stroke-width="0.5"/>
<circle cx="124.83" cy="360.30" r="0.95" fill="#1c2a8c"/>
<line x1="124.83" y1="337.20" x2="124.83" y2="349.20" stroke="#a12aa8" stroke-width="0.6"/>
<line x1="123.83" y1="337.20" x2="125.83" y2="337.20" stroke="#a12aa8" stroke-width="0.5"/>
<line x1="123.83" y1="349.20" x2="125.83" y2="349.20" stroke="#a12aa8" stroke-width="0.5"/>
<circle cx="124.83" cy="343.20" r="0.95" fill="#a12aa8"/>
<line x1="133.89" y1="341.70" x2="133.89" y2="362.70" stroke="#1c2a8c" stroke-width="0.6"/>
<line x1="132.89" y1="341.70" x2="134.89" y2="341.70" stroke="#1c2a8c" stroke-width="0.5"/>
<line x1="132.89" y1="362.70" x2="134.89" y2="362.70" stroke="#1c2a8c" stroke-width="0.5"/>
<circle cx="133.89" cy="352.20" r="0.95" fill="#1c2a8c"/>
<line x1="133.89" y1="326.10" x2="133.89" y2="339.30" stroke="#cc1f55" stroke-width="0.6"/>
<line x1="132.89" y1="326.10" x2="134.89" y2="326.10" stroke="#cc1f55" stroke-width="0.5"/>
<line x1="132.89" y1="339.30" x2="134.89" y2="339.30" stroke="#cc1f55" stroke-width="0.5"/>
<circle cx="133.89" cy="332.70" r="0.95" fill="#cc1f55"/>
<line x1="133.89" y1="370.80" x2="133.89" y2="373.20" stroke="#6fb4e4" stroke-width="0.6"/>
<line x1="132.89" y1="370.80" x2="134.89" y2="370.80" stroke="#6fb4e4" stroke-width="0.5"/>
<line x1="132.89" y1="373.20" x2="134.89" y2="373.20" stroke="#6fb4e4" stroke-width="0.5"/>
<circle cx="133.89" cy="372.00" r="0.95" fill="#6fb4e4"/>
<text x="134.30" y="355.40" font-size="7.0" font-weight="bold" text-anchor="middle" fill="#000" textLength="9.60" lengthAdjust="spacingAndGlyphs">***</text>
<text x="134.30" y="370.20" font-size="7.0" font-weight="bold" text-anchor="middle" fill="#000" textLength="9.60" lengthAdjust="spacingAndGlyphs">***</text>
<line x1="53.60" y1="319.80" x2="61.00" y2="319.80" stroke="#cc1f55" stroke-width="0.6" stroke-dasharray="1.2 0.8"/>
<circle cx="57.4" cy="319.8" r="0.95" fill="#cc1f55"/>
<text x="61.60" y="321.90" font-size="6.0" font-weight="normal" text-anchor="start" fill="#111" textLength="16.00" lengthAdjust="spacingAndGlyphs">NB CM</text>
<line x1="53.60" y1="326.50" x2="61.00" y2="326.50" stroke="#6fb4e4" stroke-width="0.6" stroke-dasharray="1.2 0.8"/>
<circle cx="57.4" cy="326.5" r="0.95" fill="#6fb4e4"/>
<text x="61.60" y="328.60" font-size="6.0" font-weight="normal" text-anchor="start" fill="#111" textLength="40.30" lengthAdjust="spacingAndGlyphs">NB/CAF-MSC CM</text>
<line x1="53.60" y1="333.20" x2="61.00" y2="333.20" stroke="#1c2a8c" stroke-width="0.6" stroke-dasharray="1.2 0.8"/>
<circle cx="57.4" cy="333.2" r="0.95" fill="#1c2a8c"/>
<text x="61.60" y="335.30" font-size="6.0" font-weight="normal" text-anchor="start" fill="#111" textLength="38.00" lengthAdjust="spacingAndGlyphs">NB/BM-MSC CM</text>
<line x1="53.60" y1="340.40" x2="61.00" y2="340.40" stroke="#a12aa8" stroke-width="0.6" stroke-dasharray="1.2 0.8"/>
<circle cx="57.4" cy="340.4" r="0.95" fill="#a12aa8"/>
<text x="61.60" y="342.50" font-size="6.0" font-weight="normal" text-anchor="start" fill="#111" textLength="23.50" lengthAdjust="spacingAndGlyphs">NB/Fb CM</text>
<text x="219.40" y="312.90" font-size="8.4" font-weight="bold" text-anchor="middle" fill="#000" textLength="31.50" lengthAdjust="spacingAndGlyphs" class="s">SK-N-SH</text>
<text transform="translate(163.40,348.00) rotate(-90)" font-size="9.2" font-weight="bold" text-anchor="middle" fill="#000" textLength="70.50" lengthAdjust="spacingAndGlyphs" class="s">Caspase-3/7 activity</text>
<line x1="179.40" y1="319.90" x2="179.40" y2="379.40" stroke="#000" stroke-width="0.8"/>
<line x1="177.80" y1="379.00" x2="179.40" y2="379.00" stroke="#000" stroke-width="0.8"/>
<text x="177.00" y="381.45" font-size="7.0" font-weight="bold" text-anchor="end" fill="#000" textLength="3.19" lengthAdjust="spacingAndGlyphs" class="s">0</text>
<line x1="177.80" y1="364.30" x2="179.40" y2="364.30" stroke="#000" stroke-width="0.8"/>
<text x="177.00" y="366.75" font-size="7.0" font-weight="bold" text-anchor="end" fill="#000" textLength="3.19" lengthAdjust="spacingAndGlyphs" class="s">3</text>
<line x1="177.80" y1="349.60" x2="179.40" y2="349.60" stroke="#000" stroke-width="0.8"/>
<text x="177.00" y="352.05" font-size="7.0" font-weight="bold" text-anchor="end" fill="#000" textLength="3.19" lengthAdjust="spacingAndGlyphs" class="s">6</text>
<line x1="177.80" y1="334.90" x2="179.40" y2="334.90" stroke="#000" stroke-width="0.8"/>
<text x="177.00" y="337.35" font-size="7.0" font-weight="bold" text-anchor="end" fill="#000" textLength="3.19" lengthAdjust="spacingAndGlyphs" class="s">9</text>
<line x1="177.80" y1="320.20" x2="179.40" y2="320.20" stroke="#000" stroke-width="0.8"/>
<text x="177.00" y="322.65" font-size="7.0" font-weight="bold" text-anchor="end" fill="#000" textLength="6.38" lengthAdjust="spacingAndGlyphs" class="s">12</text>
<line x1="179.40" y1="379.40" x2="262.30" y2="379.40" stroke="#000" stroke-width="0.8"/>
<line x1="193.80" y1="379.40" x2="193.80" y2="381.20" stroke="#000" stroke-width="0.8"/>
<text x="193.20" y="389.60" font-size="6.6" font-weight="bold" text-anchor="middle" fill="#000" textLength="11.56" lengthAdjust="spacingAndGlyphs" class="s">0.01</text>
<line x1="222.00" y1="379.40" x2="222.00" y2="381.20" stroke="#000" stroke-width="0.8"/>
<text x="222.80" y="389.60" font-size="6.6" font-weight="bold" text-anchor="middle" fill="#000" textLength="8.26" lengthAdjust="spacingAndGlyphs" class="s">0.1</text>
<line x1="250.20" y1="379.40" x2="250.20" y2="381.20" stroke="#000" stroke-width="0.8"/>
<text x="250.90" y="389.60" font-size="6.6" font-weight="bold" text-anchor="middle" fill="#000" textLength="3.30" lengthAdjust="spacingAndGlyphs" class="s">1</text>
<line x1="182.58" y1="379.40" x2="182.58" y2="380.40" stroke="#000" stroke-width="0.5"/>
<line x1="185.31" y1="379.40" x2="185.31" y2="380.40" stroke="#000" stroke-width="0.5"/>
<line x1="187.54" y1="379.40" x2="187.54" y2="380.40" stroke="#000" stroke-width="0.5"/>
<line x1="189.43" y1="379.40" x2="189.43" y2="380.40" stroke="#000" stroke-width="0.5"/>
<line x1="191.07" y1="379.40" x2="191.07" y2="380.40" stroke="#000" stroke-width="0.5"/>
<line x1="192.51" y1="379.40" x2="192.51" y2="380.40" stroke="#000" stroke-width="0.5"/>
<line x1="202.29" y1="379.40" x2="202.29" y2="380.40" stroke="#000" stroke-width="0.5"/>
<line x1="207.25" y1="379.40" x2="207.25" y2="380.40" stroke="#000" stroke-width="0.5"/>
<line x1="210.78" y1="379.40" x2="210.78" y2="380.40" stroke="#000" stroke-width="0.5"/>
<line x1="213.51" y1="379.40" x2="213.51" y2="380.40" stroke="#000" stroke-width="0.5"/>
<line x1="215.74" y1="379.40" x2="215.74" y2="380.40" stroke="#000" stroke-width="0.5"/>
<line x1="217.63" y1="379.40" x2="217.63" y2="380.40" stroke="#000" stroke-width="0.5"/>
<line x1="219.27" y1="379.40" x2="219.27" y2="380.40" stroke="#000" stroke-width="0.5"/>
<line x1="220.71" y1="379.40" x2="220.71" y2="380.40" stroke="#000" stroke-width="0.5"/>
<line x1="230.49" y1="379.40" x2="230.49" y2="380.40" stroke="#000" stroke-width="0.5"/>
<line x1="235.45" y1="379.40" x2="235.45" y2="380.40" stroke="#000" stroke-width="0.5"/>
<line x1="238.98" y1="379.40" x2="238.98" y2="380.40" stroke="#000" stroke-width="0.5"/>
<line x1="241.71" y1="379.40" x2="241.71" y2="380.40" stroke="#000" stroke-width="0.5"/>
<line x1="243.94" y1="379.40" x2="243.94" y2="380.40" stroke="#000" stroke-width="0.5"/>
<line x1="245.83" y1="379.40" x2="245.83" y2="380.40" stroke="#000" stroke-width="0.5"/>
<line x1="247.47" y1="379.40" x2="247.47" y2="380.40" stroke="#000" stroke-width="0.5"/>
<line x1="248.91" y1="379.40" x2="248.91" y2="380.40" stroke="#000" stroke-width="0.5"/>
<line x1="258.69" y1="379.40" x2="258.69" y2="380.40" stroke="#000" stroke-width="0.5"/>
<text x="220.90" y="400.00" font-size="7.8" font-weight="bold" text-anchor="middle" fill="#000" textLength="54.00" lengthAdjust="spacingAndGlyphs" class="s">Etoposide (µmol/L)</text>
<path d="M179.40,378.15 L180.74,378.14 L182.08,378.13 L183.42,378.11 L184.76,378.10 L186.10,378.08 L187.45,378.06 L188.79,378.04 L190.13,378.02 L191.47,377.99 L192.81,377.97 L194.15,377.94 L195.49,377.90 L196.83,377.87 L198.17,377.83 L199.51,377.78 L200.86,377.73 L202.20,377.68 L203.54,377.62 L204.88,377.55 L206.22,377.48 L207.56,377.40 L208.90,377.32 L210.24,377.22 L211.58,377.12 L212.92,377.00 L214.26,376.88 L215.61,376.74 L216.95,376.59 L218.29,376.43 L219.63,376.25 L220.97,376.06 L222.31,375.85 L223.65,375.62 L224.99,375.38 L226.33,375.11 L227.67,374.82 L229.01,374.51 L230.36,374.18 L231.70,373.82 L233.04,373.43 L234.38,373.02 L235.72,372.58 L237.06,372.12 L238.40,371.63 L239.74,371.11 L241.08,370.56 L242.42,369.98 L243.77,369.39 L245.11,368.76 L246.45,368.12 L247.79,367.46 L249.13,366.77 L250.47,366.08 L251.81,365.37 L253.15,364.65 L254.49,363.93 L255.83,363.20 L257.17,362.48 L258.52,361.76 L259.86,361.06" stroke="#6fb4e4" stroke-width="1.0" fill="none"/>
<path d="M179.40,374.73 L180.74,374.67 L182.08,374.61 L183.42,374.55 L184.76,374.48 L186.10,374.41 L187.45,374.34 L188.79,374.26 L190.13,374.17 L191.47,374.08 L192.81,373.99 L194.15,373.89 L195.49,373.78 L196.83,373.66 L198.17,373.54 L199.51,373.42 L200.86,373.28 L202.20,373.14 L203.54,372.99 L204.88,372.83 L206.22,372.67 L207.56,372.49 L208.90,372.31 L210.24,372.11 L211.58,371.91 L212.92,371.70 L214.26,371.47 L215.61,371.24 L216.95,370.99 L218.29,370.73 L219.63,370.47 L220.97,370.19 L222.31,369.89 L223.65,369.59 L224.99,369.28 L226.33,368.95 L227.67,368.61 L229.01,368.26 L230.36,367.90 L231.70,367.53 L233.04,367.15 L234.38,366.76 L235.72,366.36 L237.06,365.95 L238.40,365.53 L239.74,365.11 L241.08,364.67 L242.42,364.23 L243.77,363.79 L245.11,363.34 L246.45,362.89 L247.79,362.43 L249.13,361.97 L250.47,361.51 L251.81,361.05 L253.15,360.60 L254.49,360.14 L255.83,359.69 L257.17,359.24 L258.52,358.80 L259.86,358.36" stroke="#1c2a8c" stroke-width="1.0" fill="none"/>
<path d="M179.40,374.07 L180.74,373.94 L182.08,373.80 L183.42,373.66 L184.76,373.51 L186.10,373.35 L187.45,373.18 L188.79,373.01 L190.13,372.82 L191.47,372.63 L192.81,372.43 L194.15,372.22 L195.49,372.00 L196.83,371.77 L198.17,371.53 L199.51,371.28 L200.86,371.01 L202.20,370.74 L203.54,370.46 L204.88,370.16 L206.22,369.85 L207.56,369.53 L208.90,369.20 L210.24,368.85 L211.58,368.49 L212.92,368.12 L214.26,367.74 L215.61,367.34 L216.95,366.92 L218.29,366.50 L219.63,366.06 L220.97,365.61 L222.31,365.14 L223.65,364.66 L224.99,364.17 L226.33,363.66 L227.67,363.14 L229.01,362.61 L230.36,362.07 L231.70,361.51 L233.04,360.95 L234.38,360.37 L235.72,359.79 L237.06,359.19 L238.40,358.59 L239.74,357.98 L241.08,357.36 L242.42,356.73 L243.77,356.10 L245.11,355.47 L246.45,354.83 L247.79,354.19 L249.13,353.54 L250.47,352.90 L251.81,352.26 L253.15,351.61 L254.49,350.97 L255.83,350.34 L257.17,349.70 L258.52,349.08 L259.86,348.45" stroke="#a12aa8" stroke-width="1.0" fill="none"/>
<path d="M179.40,371.01 L180.74,370.84 L182.08,370.67 L183.42,370.49 L184.76,370.30 L186.10,370.10 L187.45,369.89 L188.79,369.67 L190.13,369.44 L191.47,369.20 L192.81,368.95 L194.15,368.68 L195.49,368.41 L196.83,368.12 L198.17,367.82 L199.51,367.51 L200.86,367.18 L202.20,366.84 L203.54,366.48 L204.88,366.11 L206.22,365.73 L207.56,365.33 L208.90,364.91 L210.24,364.48 L211.58,364.03 L212.92,363.56 L214.26,363.08 L215.61,362.58 L216.95,362.07 L218.29,361.54 L219.63,360.99 L220.97,360.42 L222.31,359.84 L223.65,359.24 L224.99,358.62 L226.33,357.99 L227.67,357.34 L229.01,356.68 L230.36,356.00 L231.70,355.31 L233.04,354.60 L234.38,353.88 L235.72,353.15 L237.06,352.40 L238.40,351.65 L239.74,350.88 L241.08,350.11 L242.42,349.33 L243.77,348.54 L245.11,347.75 L246.45,346.95 L247.79,346.15 L249.13,345.34 L250.47,344.54 L251.81,343.73 L253.15,342.93 L254.49,342.13 L255.83,341.33 L257.17,340.54 L258.52,339.76 L259.86,338.98" stroke="#cc1f55" stroke-width="1.0" fill="none"/>
<line x1="197.92" y1="371.65" x2="197.92" y2="376.55" stroke="#1c2a8c" stroke-width="0.6"/>
<line x1="196.92" y1="371.65" x2="198.92" y2="371.65" stroke="#1c2a8c" stroke-width="0.5"/>
<line x1="196.92" y1="376.55" x2="198.92" y2="376.55" stroke="#1c2a8c" stroke-width="0.5"/>
<circle cx="197.92" cy="374.10" r="0.95" fill="#1c2a8c"/>
<line x1="205.96" y1="363.81" x2="205.96" y2="371.65" stroke="#cc1f55" stroke-width="0.6"/>
<line x1="204.96" y1="363.81" x2="206.96" y2="363.81" stroke="#cc1f55" stroke-width="0.5"/>
<line x1="204.96" y1="371.65" x2="206.96" y2="371.65" stroke="#cc1f55" stroke-width="0.5"/>
<circle cx="205.96" cy="367.73" r="0.95" fill="#cc1f55"/>
<line x1="205.96" y1="372.14" x2="205.96" y2="376.06" stroke="#1c2a8c" stroke-width="0.6"/>
<line x1="204.96" y1="372.14" x2="206.96" y2="372.14" stroke="#1c2a8c" stroke-width="0.5"/>
<line x1="204.96" y1="376.06" x2="206.96" y2="376.06" stroke="#1c2a8c" stroke-width="0.5"/>
<circle cx="205.96" cy="374.10" r="0.95" fill="#1c2a8c"/>
<line x1="214.68" y1="362.34" x2="214.68" y2="368.22" stroke="#cc1f55" stroke-width="0.6"/>
<line x1="213.68" y1="362.34" x2="215.68" y2="362.34" stroke="#cc1f55" stroke-width="0.5"/>
<line x1="213.68" y1="368.22" x2="215.68" y2="368.22" stroke="#cc1f55" stroke-width="0.5"/>
<circle cx="214.68" cy="365.28" r="0.95" fill="#cc1f55"/>
<line x1="214.68" y1="371.16" x2="214.68" y2="374.10" stroke="#1c2a8c" stroke-width="0.6"/>
<line x1="213.68" y1="371.16" x2="215.68" y2="371.16" stroke="#1c2a8c" stroke-width="0.5"/>
<line x1="213.68" y1="374.10" x2="215.68" y2="374.10" stroke="#1c2a8c" stroke-width="0.5"/>
<circle cx="214.68" cy="372.63" r="0.95" fill="#1c2a8c"/>
<line x1="223.17" y1="348.13" x2="223.17" y2="360.87" stroke="#cc1f55" stroke-width="0.6"/>
<line x1="222.17" y1="348.13" x2="224.17" y2="348.13" stroke="#cc1f55" stroke-width="0.5"/>
<line x1="222.17" y1="360.87" x2="224.17" y2="360.87" stroke="#cc1f55" stroke-width="0.5"/>
<circle cx="223.17" cy="354.50" r="0.95" fill="#cc1f55"/>
<line x1="223.17" y1="367.24" x2="223.17" y2="375.08" stroke="#1c2a8c" stroke-width="0.6"/>
<line x1="222.17" y1="367.24" x2="224.17" y2="367.24" stroke="#1c2a8c" stroke-width="0.5"/>
<line x1="222.17" y1="375.08" x2="224.17" y2="375.08" stroke="#1c2a8c" stroke-width="0.5"/>
<circle cx="223.17" cy="371.16" r="0.95" fill="#1c2a8c"/>
<line x1="231.66" y1="349.60" x2="231.66" y2="359.40" stroke="#cc1f55" stroke-width="0.6"/>
<line x1="230.66" y1="349.60" x2="232.66" y2="349.60" stroke="#cc1f55" stroke-width="0.5"/>
<line x1="230.66" y1="359.40" x2="232.66" y2="359.40" stroke="#cc1f55" stroke-width="0.5"/>
<circle cx="231.66" cy="354.50" r="0.95" fill="#cc1f55"/>
<line x1="231.66" y1="364.79" x2="231.66" y2="369.69" stroke="#6fb4e4" stroke-width="0.6"/>
<line x1="230.66" y1="364.79" x2="232.66" y2="364.79" stroke="#6fb4e4" stroke-width="0.5"/>
<line x1="230.66" y1="369.69" x2="232.66" y2="369.69" stroke="#6fb4e4" stroke-width="0.5"/>
<circle cx="231.66" cy="367.24" r="0.95" fill="#6fb4e4"/>
<line x1="240.15" y1="348.13" x2="240.15" y2="354.99" stroke="#cc1f55" stroke-width="0.6"/>
<line x1="239.15" y1="348.13" x2="241.15" y2="348.13" stroke="#cc1f55" stroke-width="0.5"/>
<line x1="239.15" y1="354.99" x2="241.15" y2="354.99" stroke="#cc1f55" stroke-width="0.5"/>
<circle cx="240.15" cy="351.56" r="0.95" fill="#cc1f55"/>
<line x1="240.15" y1="362.34" x2="240.15" y2="370.18" stroke="#1c2a8c" stroke-width="0.6"/>
<line x1="239.15" y1="362.34" x2="241.15" y2="362.34" stroke="#1c2a8c" stroke-width="0.5"/>
<line x1="239.15" y1="370.18" x2="241.15" y2="370.18" stroke="#1c2a8c" stroke-width="0.5"/>
<circle cx="240.15" cy="366.26" r="0.95" fill="#1c2a8c"/>
<line x1="248.63" y1="342.74" x2="248.63" y2="351.56" stroke="#cc1f55" stroke-width="0.6"/>
<line x1="247.63" y1="342.74" x2="249.63" y2="342.74" stroke="#cc1f55" stroke-width="0.5"/>
<line x1="247.63" y1="351.56" x2="249.63" y2="351.56" stroke="#cc1f55" stroke-width="0.5"/>
<circle cx="248.63" cy="347.15" r="0.95" fill="#cc1f55"/>
<line x1="248.63" y1="359.89" x2="248.63" y2="365.77" stroke="#1c2a8c" stroke-width="0.6"/>
<line x1="247.63" y1="359.89" x2="249.63" y2="359.89" stroke="#1c2a8c" stroke-width="0.5"/>
<line x1="247.63" y1="365.77" x2="249.63" y2="365.77" stroke="#1c2a8c" stroke-width="0.5"/>
<circle cx="248.63" cy="362.83" r="0.95" fill="#1c2a8c"/>
<line x1="248.63" y1="350.09" x2="248.63" y2="354.99" stroke="#a12aa8" stroke-width="0.6"/>
<line x1="247.63" y1="350.09" x2="249.63" y2="350.09" stroke="#a12aa8" stroke-width="0.5"/>
<line x1="247.63" y1="354.99" x2="249.63" y2="354.99" stroke="#a12aa8" stroke-width="0.5"/>
<circle cx="248.63" cy="352.54" r="0.95" fill="#a12aa8"/>
<line x1="257.12" y1="356.95" x2="257.12" y2="366.75" stroke="#1c2a8c" stroke-width="0.6"/>
<line x1="256.12" y1="356.95" x2="258.12" y2="356.95" stroke="#1c2a8c" stroke-width="0.5"/>
<line x1="256.12" y1="366.75" x2="258.12" y2="366.75" stroke="#1c2a8c" stroke-width="0.5"/>
<circle cx="257.12" cy="361.85" r="0.95" fill="#1c2a8c"/>
<line x1="257.12" y1="347.64" x2="257.12" y2="355.48" stroke="#a12aa8" stroke-width="0.6"/>
<line x1="256.12" y1="347.64" x2="258.12" y2="347.64" stroke="#a12aa8" stroke-width="0.5"/>
<line x1="256.12" y1="355.48" x2="258.12" y2="355.48" stroke="#a12aa8" stroke-width="0.5"/>
<circle cx="257.12" cy="351.56" r="0.95" fill="#a12aa8"/>
<text x="265.00" y="358.60" font-size="7.0" font-weight="bold" text-anchor="middle" fill="#000" textLength="6.40" lengthAdjust="spacingAndGlyphs">**</text>
<text x="262.00" y="369.60" font-size="7.0" font-weight="bold" text-anchor="middle" fill="#000" textLength="9.60" lengthAdjust="spacingAndGlyphs">***</text>
<text x="341.20" y="312.80" font-size="8.4" font-weight="bold" text-anchor="middle" fill="#000" textLength="33.00" lengthAdjust="spacingAndGlyphs" class="s">SK-N-BE2</text>
<text transform="translate(283.60,349.90) rotate(-90)" font-size="8.2" font-weight="bold" text-anchor="middle" fill="#000" textLength="67.70" lengthAdjust="spacingAndGlyphs" class="s">Caspase-3/7 activity</text>
<text transform="translate(292.60,345.60) rotate(-90)" font-size="7.6" font-weight="bold" text-anchor="middle" fill="#000" textLength="59.00" lengthAdjust="spacingAndGlyphs">(1 µmol/L Etoposide)</text>
<line x1="305.20" y1="320.42" x2="305.20" y2="379.60" stroke="#000" stroke-width="0.8"/>
<line x1="303.60" y1="379.60" x2="305.20" y2="379.60" stroke="#000" stroke-width="0.8"/>
<text x="302.80" y="382.05" font-size="7.0" font-weight="bold" text-anchor="end" fill="#000" textLength="3.19" lengthAdjust="spacingAndGlyphs" class="s">0</text>
<line x1="303.60" y1="364.88" x2="305.20" y2="364.88" stroke="#000" stroke-width="0.8"/>
<text x="302.80" y="367.33" font-size="7.0" font-weight="bold" text-anchor="end" fill="#000" textLength="3.19" lengthAdjust="spacingAndGlyphs" class="s">2</text>
<line x1="303.60" y1="350.16" x2="305.20" y2="350.16" stroke="#000" stroke-width="0.8"/>
<text x="302.80" y="352.61" font-size="7.0" font-weight="bold" text-anchor="end" fill="#000" textLength="3.19" lengthAdjust="spacingAndGlyphs" class="s">4</text>
<line x1="303.60" y1="335.44" x2="305.20" y2="335.44" stroke="#000" stroke-width="0.8"/>
<text x="302.80" y="337.89" font-size="7.0" font-weight="bold" text-anchor="end" fill="#000" textLength="3.19" lengthAdjust="spacingAndGlyphs" class="s">6</text>
<line x1="303.60" y1="320.72" x2="305.20" y2="320.72" stroke="#000" stroke-width="0.8"/>
<text x="302.80" y="323.17" font-size="7.0" font-weight="bold" text-anchor="end" fill="#000" textLength="3.19" lengthAdjust="spacingAndGlyphs" class="s">8</text>
<line x1="305.20" y1="379.60" x2="385.00" y2="379.60" stroke="#000" stroke-width="0.8"/>
<circle cx="310.00" cy="367.82" r="1.75" fill="#fff" stroke="#000" stroke-width="0.55"/>
<circle cx="312.80" cy="370.77" r="1.75" fill="#fff" stroke="#000" stroke-width="0.55"/>
<circle cx="315.60" cy="365.62" r="1.75" fill="#fff" stroke="#000" stroke-width="0.55"/>
<circle cx="318.40" cy="369.30" r="1.75" fill="#000" stroke="#000" stroke-width="0.55"/>
<circle cx="321.20" cy="367.82" r="1.75" fill="#000" stroke="#000" stroke-width="0.55"/>
<circle cx="315.60" cy="370.03" r="1.75" fill="#fff" stroke="#000" stroke-width="0.55"/>
<line x1="306.60" y1="368.19" x2="324.60" y2="368.19" stroke="#000" stroke-width="1.0"/>
<line x1="312.60" y1="366.35" x2="318.60" y2="366.35" stroke="#000" stroke-width="0.6"/>
<line x1="312.60" y1="370.03" x2="318.60" y2="370.03" stroke="#000" stroke-width="0.6"/>
<line x1="315.60" y1="366.35" x2="315.60" y2="370.03" stroke="#000" stroke-width="0.5"/>
<line x1="315.20" y1="379.60" x2="315.20" y2="381.10" stroke="#000" stroke-width="0.8"/>
<text x="315.20" y="385.60" font-size="6.0" font-weight="bold" text-anchor="middle" fill="#000" textLength="6.40" lengthAdjust="spacingAndGlyphs" class="s">NB</text>
<text x="315.20" y="392.30" font-size="6.0" font-weight="bold" text-anchor="middle" fill="#000" textLength="7.00" lengthAdjust="spacingAndGlyphs" class="s">CM</text>
<text x="315.60" y="358.00" font-size="6.0" font-weight="normal" text-anchor="middle" fill="#000" textLength="7.60" lengthAdjust="spacingAndGlyphs">n.s.</text>
<circle cx="329.60" cy="373.71" r="1.75" fill="#fff" stroke="#000" stroke-width="0.55"/>
<circle cx="332.40" cy="374.45" r="1.75" fill="#000" stroke="#000" stroke-width="0.55"/>
<circle cx="335.20" cy="372.98" r="1.75" fill="#000" stroke="#000" stroke-width="0.55"/>
<circle cx="338.00" cy="373.71" r="1.75" fill="#000" stroke="#000" stroke-width="0.55"/>
<circle cx="340.80" cy="373.34" r="1.75" fill="#fff" stroke="#000" stroke-width="0.55"/>
<line x1="326.20" y1="373.71" x2="344.20" y2="373.71" stroke="#000" stroke-width="1.0"/>
<line x1="332.20" y1="372.98" x2="338.20" y2="372.98" stroke="#000" stroke-width="0.6"/>
<line x1="332.20" y1="374.45" x2="338.20" y2="374.45" stroke="#000" stroke-width="0.6"/>
<line x1="335.20" y1="372.98" x2="335.20" y2="374.45" stroke="#000" stroke-width="0.5"/>
<line x1="333.20" y1="379.60" x2="333.20" y2="381.10" stroke="#000" stroke-width="0.8"/>
<text x="333.20" y="385.60" font-size="6.0" font-weight="bold" text-anchor="middle" fill="#000" textLength="7.80" lengthAdjust="spacingAndGlyphs" class="s">NB/</text>
<text x="333.20" y="392.30" font-size="6.0" font-weight="bold" text-anchor="middle" fill="#000" textLength="20.80" lengthAdjust="spacingAndGlyphs" class="s">CAF-MSC</text>
<text x="333.20" y="398.70" font-size="6.0" font-weight="bold" text-anchor="middle" fill="#000" textLength="7.00" lengthAdjust="spacingAndGlyphs" class="s">CM</text>
<text x="335.20" y="364.70" font-size="6.0" font-weight="normal" text-anchor="middle" fill="#000" textLength="7.60" lengthAdjust="spacingAndGlyphs">n.s.</text>
<circle cx="349.50" cy="368.19" r="1.75" fill="#000" stroke="#000" stroke-width="0.55"/>
<circle cx="354.40" cy="368.19" r="1.75" fill="#000" stroke="#000" stroke-width="0.55"/>
<circle cx="359.30" cy="368.19" r="1.75" fill="#000" stroke="#000" stroke-width="0.55"/>
<circle cx="349.50" cy="373.34" r="1.75" fill="#000" stroke="#000" stroke-width="0.55"/>
<circle cx="354.40" cy="374.08" r="1.75" fill="#000" stroke="#000" stroke-width="0.55"/>
<circle cx="359.30" cy="373.34" r="1.75" fill="#000" stroke="#000" stroke-width="0.55"/>
<line x1="345.40" y1="370.77" x2="363.40" y2="370.77" stroke="#000" stroke-width="1.0"/>
<line x1="351.40" y1="368.56" x2="357.40" y2="368.56" stroke="#000" stroke-width="0.6"/>
<line x1="351.40" y1="372.98" x2="357.40" y2="372.98" stroke="#000" stroke-width="0.6"/>
<line x1="354.40" y1="368.56" x2="354.40" y2="372.98" stroke="#000" stroke-width="0.5"/>
<line x1="356.00" y1="379.60" x2="356.00" y2="381.10" stroke="#000" stroke-width="0.8"/>
<text x="356.00" y="385.60" font-size="6.0" font-weight="bold" text-anchor="middle" fill="#000" textLength="7.80" lengthAdjust="spacingAndGlyphs" class="s">NB/</text>
<text x="356.00" y="392.30" font-size="6.0" font-weight="bold" text-anchor="middle" fill="#000" textLength="18.80" lengthAdjust="spacingAndGlyphs" class="s">BM-MSC</text>
<text x="356.00" y="398.70" font-size="6.0" font-weight="bold" text-anchor="middle" fill="#000" textLength="7.00" lengthAdjust="spacingAndGlyphs" class="s">CM</text>
<text x="354.40" y="360.00" font-size="6.0" font-weight="normal" text-anchor="middle" fill="#000" textLength="7.60" lengthAdjust="spacingAndGlyphs">n.s.</text>
<circle cx="368.40" cy="371.50" r="1.75" fill="#fff" stroke="#000" stroke-width="0.55"/>
<circle cx="371.20" cy="370.03" r="1.75" fill="#000" stroke="#000" stroke-width="0.55"/>
<circle cx="374.00" cy="372.24" r="1.75" fill="#000" stroke="#000" stroke-width="0.55"/>
<circle cx="376.80" cy="367.82" r="1.75" fill="#000" stroke="#000" stroke-width="0.55"/>
<circle cx="379.60" cy="370.77" r="1.75" fill="#000" stroke="#000" stroke-width="0.55"/>
<line x1="365.00" y1="370.77" x2="383.00" y2="370.77" stroke="#000" stroke-width="1.0"/>
<line x1="371.00" y1="368.56" x2="377.00" y2="368.56" stroke="#000" stroke-width="0.6"/>
<line x1="371.00" y1="372.98" x2="377.00" y2="372.98" stroke="#000" stroke-width="0.6"/>
<line x1="374.00" y1="368.56" x2="374.00" y2="372.98" stroke="#000" stroke-width="0.5"/>
<line x1="376.50" y1="379.60" x2="376.50" y2="381.10" stroke="#000" stroke-width="0.8"/>
<text x="376.50" y="385.60" font-size="6.0" font-weight="bold" text-anchor="middle" fill="#000" textLength="7.80" lengthAdjust="spacingAndGlyphs" class="s">NB/</text>
<text x="376.50" y="392.30" font-size="6.0" font-weight="bold" text-anchor="middle" fill="#000" textLength="5.00" lengthAdjust="spacingAndGlyphs" class="s">Fb</text>
<text x="376.50" y="398.70" font-size="6.0" font-weight="bold" text-anchor="middle" fill="#000" textLength="7.00" lengthAdjust="spacingAndGlyphs" class="s">CM</text>
<text x="374.00" y="360.00" font-size="6.0" font-weight="normal" text-anchor="middle" fill="#000" textLength="7.60" lengthAdjust="spacingAndGlyphs">n.s.</text>
<text x="468.20" y="312.80" font-size="8.4" font-weight="bold" text-anchor="middle" fill="#000" textLength="29.60" lengthAdjust="spacingAndGlyphs" class="s">CHLA-90</text>
<text transform="translate(408.90,349.90) rotate(-90)" font-size="8.2" font-weight="bold" text-anchor="middle" fill="#000" textLength="67.70" lengthAdjust="spacingAndGlyphs" class="s">Caspase-3/7 activity</text>
<text transform="translate(418.90,345.60) rotate(-90)" font-size="7.6" font-weight="bold" text-anchor="middle" fill="#000" textLength="59.00" lengthAdjust="spacingAndGlyphs">(1 µmol/L Etoposide)</text>
<line x1="433.60" y1="319.30" x2="433.60" y2="378.80" stroke="#000" stroke-width="0.8"/>
<line x1="432.00" y1="378.80" x2="433.60" y2="378.80" stroke="#000" stroke-width="0.8"/>
<text x="431.20" y="381.25" font-size="7.0" font-weight="bold" text-anchor="end" fill="#000" textLength="3.19" lengthAdjust="spacingAndGlyphs" class="s">0</text>
<line x1="432.00" y1="364.00" x2="433.60" y2="364.00" stroke="#000" stroke-width="0.8"/>
<text x="431.20" y="366.45" font-size="7.0" font-weight="bold" text-anchor="end" fill="#000" textLength="3.19" lengthAdjust="spacingAndGlyphs" class="s">2</text>
<line x1="432.00" y1="349.20" x2="433.60" y2="349.20" stroke="#000" stroke-width="0.8"/>
<text x="431.20" y="351.65" font-size="7.0" font-weight="bold" text-anchor="end" fill="#000" textLength="3.19" lengthAdjust="spacingAndGlyphs" class="s">4</text>
<line x1="432.00" y1="334.40" x2="433.60" y2="334.40" stroke="#000" stroke-width="0.8"/>
<text x="431.20" y="336.85" font-size="7.0" font-weight="bold" text-anchor="end" fill="#000" textLength="3.19" lengthAdjust="spacingAndGlyphs" class="s">6</text>
<line x1="432.00" y1="319.60" x2="433.60" y2="319.60" stroke="#000" stroke-width="0.8"/>
<text x="431.20" y="322.05" font-size="7.0" font-weight="bold" text-anchor="end" fill="#000" textLength="3.19" lengthAdjust="spacingAndGlyphs" class="s">8</text>
<line x1="433.60" y1="378.80" x2="512.00" y2="378.80" stroke="#000" stroke-width="0.8"/>
<circle cx="437.20" cy="371.40" r="1.75" fill="#fff" stroke="#000" stroke-width="0.55"/>
<circle cx="440.00" cy="369.18" r="1.75" fill="#fff" stroke="#000" stroke-width="0.55"/>
<circle cx="442.80" cy="373.62" r="1.75" fill="#fff" stroke="#000" stroke-width="0.55"/>
<circle cx="445.60" cy="369.92" r="1.75" fill="#fff" stroke="#000" stroke-width="0.55"/>
<circle cx="448.40" cy="367.70" r="1.75" fill="#fff" stroke="#000" stroke-width="0.55"/>
<line x1="433.80" y1="371.40" x2="451.80" y2="371.40" stroke="#000" stroke-width="1.0"/>
<line x1="439.80" y1="369.18" x2="445.80" y2="369.18" stroke="#000" stroke-width="0.6"/>
<line x1="439.80" y1="373.62" x2="445.80" y2="373.62" stroke="#000" stroke-width="0.6"/>
<line x1="442.80" y1="369.18" x2="442.80" y2="373.62" stroke="#000" stroke-width="0.5"/>
<line x1="442.00" y1="378.80" x2="442.00" y2="380.30" stroke="#000" stroke-width="0.8"/>
<text x="442.00" y="385.60" font-size="6.0" font-weight="bold" text-anchor="middle" fill="#000" textLength="6.40" lengthAdjust="spacingAndGlyphs" class="s">NB</text>
<text x="442.00" y="392.30" font-size="6.0" font-weight="bold" text-anchor="middle" fill="#000" textLength="7.00" lengthAdjust="spacingAndGlyphs" class="s">CM</text>
<text x="442.80" y="362.00" font-size="6.0" font-weight="normal" text-anchor="middle" fill="#000" textLength="7.60" lengthAdjust="spacingAndGlyphs">n.s.</text>
<circle cx="456.80" cy="371.40" r="1.75" fill="#fff" stroke="#000" stroke-width="0.55"/>
<circle cx="459.60" cy="372.14" r="1.75" fill="#000" stroke="#000" stroke-width="0.55"/>
<circle cx="462.40" cy="371.40" r="1.75" fill="#fff" stroke="#000" stroke-width="0.55"/>
<circle cx="465.20" cy="370.66" r="1.75" fill="#fff" stroke="#000" stroke-width="0.55"/>
<circle cx="468.00" cy="371.40" r="1.75" fill="#000" stroke="#000" stroke-width="0.55"/>
<line x1="453.40" y1="371.40" x2="471.40" y2="371.40" stroke="#000" stroke-width="1.0"/>
<line x1="459.40" y1="370.66" x2="465.40" y2="370.66" stroke="#000" stroke-width="0.6"/>
<line x1="459.40" y1="372.14" x2="465.40" y2="372.14" stroke="#000" stroke-width="0.6"/>
<line x1="462.40" y1="370.66" x2="462.40" y2="372.14" stroke="#000" stroke-width="0.5"/>
<line x1="459.20" y1="378.80" x2="459.20" y2="380.30" stroke="#000" stroke-width="0.8"/>
<text x="459.20" y="385.60" font-size="6.0" font-weight="bold" text-anchor="middle" fill="#000" textLength="7.80" lengthAdjust="spacingAndGlyphs" class="s">NB/</text>
<text x="459.20" y="392.30" font-size="6.0" font-weight="bold" text-anchor="middle" fill="#000" textLength="20.80" lengthAdjust="spacingAndGlyphs" class="s">CAF-MSC</text>
<text x="459.20" y="398.70" font-size="6.0" font-weight="bold" text-anchor="middle" fill="#000" textLength="7.00" lengthAdjust="spacingAndGlyphs" class="s">CM</text>
<text x="462.40" y="365.40" font-size="6.0" font-weight="normal" text-anchor="middle" fill="#000" textLength="7.60" lengthAdjust="spacingAndGlyphs">n.s.</text>
<circle cx="475.70" cy="369.92" r="1.75" fill="#000" stroke="#000" stroke-width="0.55"/>
<circle cx="478.50" cy="369.18" r="1.75" fill="#000" stroke="#000" stroke-width="0.55"/>
<circle cx="481.30" cy="370.66" r="1.75" fill="#000" stroke="#000" stroke-width="0.55"/>
<circle cx="484.10" cy="369.18" r="1.75" fill="#000" stroke="#000" stroke-width="0.55"/>
<circle cx="486.90" cy="369.92" r="1.75" fill="#000" stroke="#000" stroke-width="0.55"/>
<line x1="472.30" y1="369.55" x2="490.30" y2="369.55" stroke="#000" stroke-width="1.0"/>
<line x1="478.30" y1="368.44" x2="484.30" y2="368.44" stroke="#000" stroke-width="0.6"/>
<line x1="478.30" y1="370.66" x2="484.30" y2="370.66" stroke="#000" stroke-width="0.6"/>
<line x1="481.30" y1="368.44" x2="481.30" y2="370.66" stroke="#000" stroke-width="0.5"/>
<line x1="481.80" y1="378.80" x2="481.80" y2="380.30" stroke="#000" stroke-width="0.8"/>
<text x="481.80" y="385.60" font-size="6.0" font-weight="bold" text-anchor="middle" fill="#000" textLength="7.80" lengthAdjust="spacingAndGlyphs" class="s">NB/</text>
<text x="481.80" y="392.30" font-size="6.0" font-weight="bold" text-anchor="middle" fill="#000" textLength="18.80" lengthAdjust="spacingAndGlyphs" class="s">BM-MSC</text>
<text x="481.80" y="398.70" font-size="6.0" font-weight="bold" text-anchor="middle" fill="#000" textLength="7.00" lengthAdjust="spacingAndGlyphs" class="s">CM</text>
<text x="481.30" y="362.00" font-size="6.0" font-weight="normal" text-anchor="middle" fill="#000" textLength="7.60" lengthAdjust="spacingAndGlyphs">n.s.</text>
<circle cx="495.20" cy="371.40" r="1.75" fill="#000" stroke="#000" stroke-width="0.55"/>
<circle cx="498.00" cy="368.44" r="1.75" fill="#fff" stroke="#000" stroke-width="0.55"/>
<circle cx="500.80" cy="362.52" r="1.75" fill="#000" stroke="#000" stroke-width="0.55"/>
<circle cx="503.60" cy="372.88" r="1.75" fill="#000" stroke="#000" stroke-width="0.55"/>
<circle cx="506.40" cy="369.92" r="1.75" fill="#fff" stroke="#000" stroke-width="0.55"/>
<line x1="491.80" y1="369.92" x2="509.80" y2="369.92" stroke="#000" stroke-width="1.0"/>
<line x1="497.80" y1="366.22" x2="503.80" y2="366.22" stroke="#000" stroke-width="0.6"/>
<line x1="497.80" y1="373.62" x2="503.80" y2="373.62" stroke="#000" stroke-width="0.6"/>
<line x1="500.80" y1="366.22" x2="500.80" y2="373.62" stroke="#000" stroke-width="0.5"/>
<line x1="502.70" y1="378.80" x2="502.70" y2="380.30" stroke="#000" stroke-width="0.8"/>
<text x="502.70" y="385.60" font-size="6.0" font-weight="bold" text-anchor="middle" fill="#000" textLength="7.80" lengthAdjust="spacingAndGlyphs" class="s">NB/</text>
<text x="502.70" y="392.30" font-size="6.0" font-weight="bold" text-anchor="middle" fill="#000" textLength="5.00" lengthAdjust="spacingAndGlyphs" class="s">Fb</text>
<text x="502.70" y="398.70" font-size="6.0" font-weight="bold" text-anchor="middle" fill="#000" textLength="7.00" lengthAdjust="spacingAndGlyphs" class="s">CM</text>
<text x="500.80" y="356.20" font-size="6.0" font-weight="normal" text-anchor="middle" fill="#000" textLength="7.60" lengthAdjust="spacingAndGlyphs">n.s.</text>
</svg>
</body></html>
